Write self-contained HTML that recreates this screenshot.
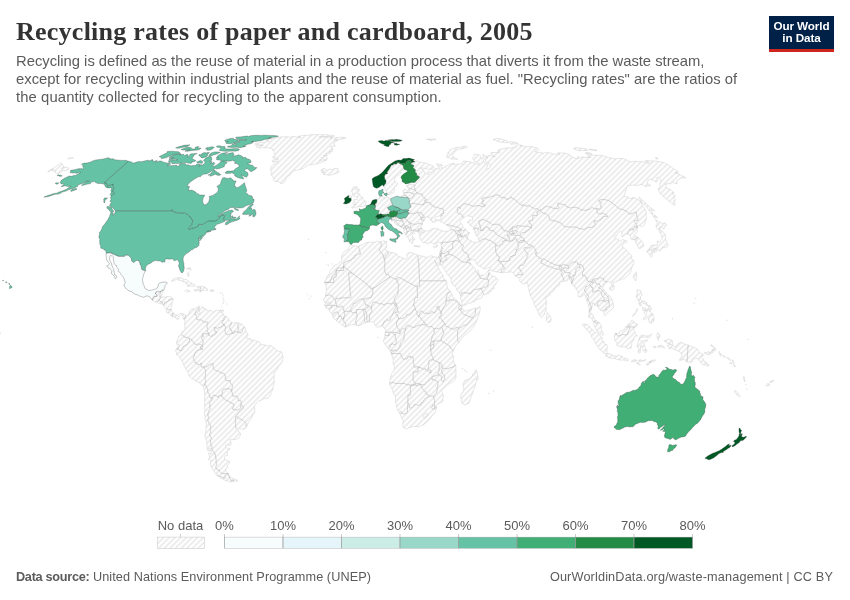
<!DOCTYPE html>
<html lang="en">
<head>
<meta charset="utf-8">
<title>Recycling rates of paper and cardboard, 2005</title>
<style>
html,body{margin:0;padding:0;background:#fff;}
body{width:850px;height:600px;position:relative;overflow:hidden;font-family:"Liberation Sans",sans-serif;}
.title{position:absolute;left:16px;top:16.5px;margin:0;font-family:"Liberation Serif",serif;font-weight:700;font-size:26px;line-height:30px;color:#333;white-space:nowrap;letter-spacing:0.25px;}
.sub{position:absolute;left:16px;top:52px;margin:0;font-size:14.8px;line-height:18px;color:#5b5b5b;white-space:nowrap;}
.sub span{display:block;}
.logo{position:absolute;left:769px;top:16px;width:65px;height:36px;background:#002147;border-bottom:3px solid #ce261e;box-sizing:border-box;color:#fff;font-weight:700;font-size:11.7px;line-height:12px;text-align:center;padding-top:4px;letter-spacing:-0.1px;}
.foot{position:absolute;top:569px;font-size:12.7px;line-height:16px;color:#5b5b5b;white-space:nowrap;margin:0;}
.foot.l{left:16px;letter-spacing:0.07px;}.foot.l b{letter-spacing:-0.29px;}
.foot.r{right:17px;letter-spacing:0.15px;}
svg{position:absolute;left:0;top:0;}
.lg text{font-family:"Liberation Sans",sans-serif;font-size:13px;fill:#5b5b5b;}
</style>
</head>
<body>
<svg width="850" height="600" viewBox="0 0 850 600">
<defs>
<pattern id="hatch" patternUnits="userSpaceOnUse" width="4" height="4" patternTransform="translate(1.4 0) rotate(-45 2 2)">
<rect width="4" height="4" fill="#fff"/>
<path d="M-1,2l6,0" stroke="#ccc" stroke-width="0.7"/>
</pattern>
</defs>
<g fill="url(#hatch)" stroke="#b2b2b2" stroke-width="0.3" stroke-linejoin="round">
<path d="M299.0,136.1L304.2,135.2L308.9,135.3L310.9,134.7L315.8,134.6L326.5,134.7L334.6,135.9L331.8,136.5L326.5,136.6L319.0,136.8L319.6,137.1L324.6,136.9L328.6,137.4L331.4,136.9L332.4,137.5L330.5,138.5L334.3,137.9L341.2,137.2L345.3,137.5L346.0,138.2L340.0,139.4L339.1,139.8L334.5,140.1L337.8,140.2L335.8,141.5L334.3,142.7L333.8,144.8L335.3,146.1L332.9,146.2L330.3,146.8L332.8,147.9L332.8,149.6L331.1,149.8L332.7,151.5L329.2,151.7L330.9,152.5L330.2,153.2L327.9,153.6L325.6,153.6L327.3,155.0L327.1,155.9L324.2,155.1L323.2,155.6L325.2,156.2L327.1,157.5L327.3,159.2L324.3,159.6L323.2,158.8L321.5,157.5L321.7,159.0L319.5,160.1L323.9,160.2L326.1,160.4L321.3,162.3L316.3,164.0L311.2,164.8L309.3,164.8L307.3,165.6L304.3,168.0L300.1,169.6L298.9,169.7L296.4,170.3L293.7,170.8L291.7,172.2L291.2,173.8L289.8,175.3L286.3,177.2L286.4,179.0L285.0,181.0L283.3,183.3L280.7,183.5L278.6,181.5L275.0,181.5L273.7,180.2L273.3,177.9L271.4,175.0L271.1,173.5L271.7,171.4L270.2,169.3L271.5,167.6L270.7,166.9L273.6,164.2L276.5,163.4L277.6,162.5L278.7,160.8L276.5,161.6L275.4,161.9L273.8,162.2L272.1,161.5L272.7,160.0L273.9,158.9L275.5,158.8L278.5,159.4L276.4,158.0L275.3,157.3L273.5,157.6L272.4,157.1L275.3,155.1L274.8,154.3L274.3,152.9L273.8,150.7L272.3,149.9L272.8,149.0L269.5,147.9L266.4,147.7L262.3,147.8L258.4,147.9L257.2,147.3L255.6,146.1L260.1,145.4L263.2,145.3L257.3,144.8L254.6,144.0L255.5,143.3L261.9,142.4L268.0,141.5L269.2,140.9L265.8,140.2L267.7,139.5L273.7,138.4L275.9,138.2L275.9,137.5L279.6,137.0L284.1,136.8L288.3,136.8L289.5,137.3L293.8,136.4L296.6,137.0L298.5,137.1L301.0,137.6L298.3,136.8L299.0,136.1ZM338.1,168.5L337.5,170.0L339.3,171.5L336.8,173.3L331.5,174.9L329.9,175.3L327.6,175.0L322.8,174.2L324.7,173.2L321.1,172.1L324.3,171.6L324.3,171.0L320.8,170.4L322.2,169.0L324.9,168.6L327.3,170.2L330.2,168.9L332.2,169.6L335.2,168.3L338.1,168.5ZM152.4,300.2L152.6,299.5L152.9,298.9L152.6,298.4L154.0,296.3L156.9,296.3L157.1,295.4L156.7,295.2L156.5,294.6L155.8,294.0L155.0,293.2L156.0,293.2L156.2,291.7L158.4,291.7L160.5,291.7L160.2,293.8L159.7,296.7L160.3,296.7L161.0,297.2L161.3,296.8L161.9,297.1L160.8,298.1L159.6,298.9L159.4,299.4L159.5,299.9L159.0,300.6L158.4,300.7L158.5,301.0L158.1,301.3L157.2,302.0L157.1,302.3L156.0,301.9L154.6,301.8L153.6,301.3L152.4,300.2ZM160.5,291.7L160.5,291.3L160.8,291.2L161.1,291.5L162.2,289.9L162.6,289.9L162.6,290.3L163.0,290.3L162.9,291.0L162.3,292.2L162.5,292.5L162.2,293.5L162.3,293.7L161.8,295.1L161.3,295.7L160.9,295.8L160.3,296.7L159.7,296.7L160.2,293.8L160.5,291.7ZM162.3,303.3L162.0,303.9L160.7,303.8L159.9,303.6L158.9,303.1L157.7,302.9L157.1,302.3L157.2,302.0L158.1,301.3L158.5,301.0L158.4,300.7L159.0,300.6L159.6,300.8L160.1,301.3L160.7,301.7L160.8,302.0L161.8,301.8L162.2,301.9L162.5,302.2L162.3,303.3ZM163.3,304.3L163.0,303.5L162.3,303.3L162.5,302.2L162.2,301.9L161.8,301.8L160.8,302.0L160.7,301.7L160.1,301.3L159.6,300.8L159.0,300.6L159.5,299.9L159.4,299.4L159.6,298.9L160.8,298.1L161.9,297.1L162.1,297.2L162.7,296.8L163.3,296.7L163.5,297.0L163.9,296.8L164.9,297.1L166.0,297.0L166.7,296.7L167.1,296.4L167.8,296.6L168.3,296.7L168.9,296.7L169.4,296.4L170.4,296.8L170.7,296.9L171.4,297.3L172.0,297.9L172.8,298.3L173.3,299.0L172.5,299.0L172.2,299.4L171.3,299.7L170.8,299.7L170.2,300.0L169.8,299.9L169.4,299.5L169.2,299.6L168.8,300.2L168.6,300.2L168.5,300.7L167.7,301.4L167.2,301.8L166.9,302.1L166.3,301.6L165.8,302.3L165.3,302.2L164.7,302.3L164.7,303.6L164.3,303.6L164.0,304.2L163.3,304.3ZM166.6,309.3L165.8,308.4L164.8,307.4L164.4,306.5L163.5,305.7L162.5,304.5L162.7,304.1L163.1,304.5L163.3,304.3L164.0,304.2L164.3,303.6L164.7,303.6L164.7,302.3L165.3,302.2L165.8,302.3L166.3,301.6L166.9,302.1L167.2,301.8L167.7,301.4L168.5,300.7L168.6,300.2L168.8,300.2L169.2,299.6L169.4,299.5L169.8,299.9L170.2,300.0L170.8,299.7L171.3,299.7L172.2,299.4L172.5,299.0L173.3,299.0L173.1,299.3L172.9,299.9L173.0,300.8L172.4,301.7L172.1,302.8L171.9,303.9L172.0,304.6L172.0,305.8L171.6,306.0L171.3,307.2L171.4,307.8L170.9,308.5L170.9,309.2L171.2,309.6L170.7,310.2L170.0,310.0L169.6,309.5L168.9,309.3L168.4,309.6L166.9,308.9L166.6,309.3ZM172.4,316.7L171.2,316.1L170.8,315.6L171.0,315.2L171.0,314.6L170.4,313.9L169.5,313.4L168.7,313.1L168.7,312.3L168.1,311.9L168.2,312.6L167.7,313.2L167.2,312.5L166.5,312.3L166.2,311.8L166.3,310.9L166.6,310.1L166.0,309.7L166.6,309.3L166.9,308.9L168.4,309.6L168.9,309.3L169.6,309.5L170.0,310.0L170.7,310.2L171.2,309.6L171.7,311.1L172.5,312.1L173.6,313.2L172.7,313.5L172.6,314.5L173.1,314.9L172.7,315.2L172.8,315.7L172.6,316.2L172.4,316.7ZM184.0,319.4L183.3,318.6L182.8,317.2L183.4,316.5L182.8,316.3L182.5,315.4L181.4,314.7L180.3,314.9L179.8,315.8L178.9,316.5L178.4,316.5L178.1,317.1L179.1,318.5L178.5,318.8L178.1,319.2L177.1,319.4L176.7,317.8L176.4,318.2L175.7,318.1L175.3,317.0L174.3,316.8L173.7,316.6L172.8,316.6L172.7,317.1L172.4,316.7L172.6,316.2L172.8,315.7L172.7,315.2L173.1,314.9L172.6,314.5L172.7,313.5L173.6,313.2L174.3,314.2L174.3,314.7L175.2,314.8L175.4,314.6L176.0,315.3L177.1,315.1L178.2,314.4L179.6,313.9L180.4,313.1L181.7,313.3L181.6,313.5L182.8,313.6L183.8,314.1L184.5,314.8L185.4,315.6L185.1,316.0L185.5,317.5L185.1,318.3L184.3,318.1L184.0,319.4ZM177.8,277.7L179.8,277.8L181.5,277.9L183.5,278.8L184.3,279.7L186.4,279.4L187.2,280.0L188.9,281.7L190.2,282.8L190.9,282.8L192.2,283.3L191.9,284.1L193.6,284.2L195.2,285.3L194.8,285.9L193.3,286.2L191.8,286.3L190.2,286.1L186.9,286.4L188.6,284.9L187.8,284.2L186.4,284.1L185.7,283.3L185.3,281.8L184.0,281.9L182.0,281.2L181.4,280.7L178.5,280.3L177.8,279.8L178.7,279.1L176.5,279.0L174.7,280.3L173.8,280.4L173.4,281.0L172.2,281.3L171.3,281.0L172.6,280.3L173.2,279.3L174.3,278.7L175.5,278.2L177.2,278.0L177.8,277.7ZM197.3,286.2L200.6,286.7L200.7,288.2L200.4,289.2L199.8,289.6L200.3,290.4L200.1,291.1L198.7,290.7L197.6,290.8L196.2,290.6L195.1,291.1L194.0,290.3L194.3,289.5L196.3,289.8L198.0,290.0L198.9,289.5L198.0,288.3L198.1,287.4L196.7,286.9L197.3,286.2ZM200.6,286.7L200.9,286.3L202.7,286.3L204.0,287.0L204.6,286.9L204.9,287.8L206.1,287.8L206.0,288.6L207.0,288.7L208.0,289.6L207.1,290.7L206.0,290.1L205.0,290.2L204.3,290.1L203.8,290.6L202.9,290.7L202.6,290.1L201.8,290.5L200.7,292.3L200.2,291.8L200.1,291.1L200.3,290.4L199.8,289.6L200.4,289.2L200.7,288.2L200.6,286.7ZM187.0,289.9L188.5,290.2L189.6,290.8L189.9,291.5L188.3,291.6L187.6,292.0L186.3,291.6L185.1,290.6L185.5,290.0L186.5,289.9L187.0,289.9ZM212.6,289.9L213.7,290.1L214.1,290.6L213.4,291.3L211.7,291.3L210.4,291.3L210.4,290.2L210.7,289.9L212.6,289.9ZM188.7,276.2L188.1,276.3L187.8,274.8L187.0,274.0L187.8,272.4L188.4,272.5L188.9,274.7L188.7,276.2ZM189.2,268.8L186.7,269.2L186.7,268.3L187.7,268.1L189.2,268.1L189.2,268.8ZM191.0,268.8L190.3,270.6L189.9,270.3L190.2,268.9L189.4,267.9L189.4,267.6L191.0,268.8ZM221.6,310.1L223.0,309.8L223.4,309.9L223.2,311.8L221.3,312.1L220.9,311.9L221.6,311.1L221.6,310.1ZM189.3,338.6L188.3,338.0L187.2,337.1L186.5,337.5L184.6,337.2L184.0,336.0L183.6,336.1L181.3,334.6L181.0,333.8L181.9,333.6L181.8,332.3L182.3,331.3L183.5,331.2L184.5,329.5L185.4,328.2L184.6,327.5L185.1,326.0L184.6,323.6L185.1,322.9L184.8,320.7L184.0,319.4L184.3,318.1L185.1,318.3L185.5,317.5L185.1,316.0L185.4,315.6L186.5,315.6L188.4,313.8L189.3,313.6L189.4,312.7L189.9,310.5L191.3,309.3L192.8,309.2L193.0,308.7L194.8,308.9L196.7,307.6L197.6,307.0L198.8,305.7L199.6,305.9L200.1,306.6L199.7,307.5L198.2,307.9L197.5,309.2L196.6,310.0L195.8,310.9L195.4,312.8L194.7,314.3L195.9,314.5L196.1,315.7L196.6,316.2L196.8,317.3L196.4,318.3L196.5,318.8L197.1,319.0L197.6,320.0L200.6,319.7L201.9,320.0L203.4,322.3L204.3,322.0L206.0,322.1L207.3,321.8L208.1,322.3L207.7,323.7L207.1,324.6L206.9,326.5L207.3,328.2L207.9,329.0L208.0,329.5L206.8,330.8L207.6,331.4L208.2,332.3L208.9,334.9L208.5,335.3L208.0,333.7L207.4,332.9L206.6,333.8L202.1,333.7L202.2,335.4L203.5,335.6L203.4,336.6L203.0,336.3L201.6,336.8L201.6,338.7L202.7,339.6L203.0,341.1L203.0,342.3L202.1,349.4L200.9,348.0L200.2,348.0L201.7,345.3L199.9,344.1L198.5,344.3L197.7,343.9L196.4,344.5L194.7,344.2L193.3,341.5L192.2,340.8L191.5,339.6L189.9,338.4L189.3,338.6ZM199.7,307.5L199.5,308.1L198.2,308.4L198.9,309.6L198.8,310.9L197.7,312.4L198.4,314.5L199.4,314.3L200.0,312.5L199.4,311.5L199.4,309.6L202.3,308.5L202.0,307.3L202.9,306.5L203.6,308.3L205.2,308.3L206.6,309.8L206.7,310.7L208.7,310.7L211.2,310.4L212.4,311.6L214.2,311.9L215.5,311.1L215.6,310.4L218.4,310.3L221.2,310.2L219.2,311.0L219.9,312.2L221.7,312.4L223.4,313.7L223.7,315.8L224.9,315.8L225.8,316.4L223.9,317.9L223.6,318.8L224.4,319.8L223.8,320.3L222.4,320.7L222.4,321.9L221.8,322.6L223.3,324.6L223.6,325.4L222.7,326.3L220.1,327.3L218.4,327.7L217.7,328.4L215.9,327.7L214.2,327.4L213.8,327.6L214.8,328.3L214.7,330.0L215.0,331.7L216.9,331.9L217.0,332.5L215.4,333.2L215.1,334.3L214.1,334.7L212.4,335.3L212.0,336.1L210.2,336.3L208.9,334.9L208.2,332.3L207.6,331.4L206.8,330.8L208.0,329.5L207.9,329.0L207.3,328.2L206.9,326.5L207.1,324.6L207.7,323.7L208.1,322.3L207.3,321.8L206.0,322.1L204.3,322.0L203.4,322.3L201.9,320.0L200.6,319.7L197.6,320.0L197.1,319.0L196.5,318.8L196.4,318.3L196.8,317.3L196.6,316.2L196.1,315.7L195.9,314.5L194.7,314.3L195.4,312.8L195.8,310.9L196.6,310.0L197.5,309.2L198.2,307.9L199.7,307.5ZM225.8,316.4L227.2,317.3L228.6,319.0L228.6,320.4L229.5,320.4L230.7,321.7L231.6,322.6L231.1,325.0L229.7,325.6L229.8,326.2L229.4,327.6L230.4,329.5L231.1,329.5L231.4,331.0L232.8,333.2L232.2,333.3L230.9,333.1L230.2,333.8L229.1,334.3L228.4,334.4L228.1,334.9L227.0,334.8L225.6,333.5L225.4,332.3L224.9,331.0L225.3,328.8L225.9,327.9L225.4,326.7L224.7,326.3L225.0,325.1L224.5,324.5L223.3,324.6L221.8,322.6L222.4,321.9L222.4,320.7L223.8,320.3L224.4,319.8L223.6,318.8L223.9,317.9L225.8,316.4ZM231.6,322.6L234.3,323.1L234.6,322.7L236.4,322.5L238.9,323.2L237.6,325.4L237.8,327.2L238.7,328.8L238.2,329.9L238.0,331.1L237.4,332.2L236.1,331.6L235.0,331.9L234.1,331.6L233.9,332.4L234.2,332.9L234.0,333.4L232.8,333.2L231.4,331.0L231.1,329.5L230.4,329.5L229.4,327.6L229.8,326.2L229.7,325.6L231.1,325.0L231.6,322.6ZM244.1,327.3L242.7,329.7L242.0,331.7L241.1,332.7L240.0,332.8L239.7,332.1L239.1,332.0L238.4,332.7L237.4,332.2L238.0,331.1L238.2,329.9L238.7,328.8L237.8,327.2L237.6,325.4L238.9,323.2L239.7,323.5L241.4,324.1L243.8,326.3L244.1,327.3ZM178.1,347.1L179.2,345.1L178.7,344.0L177.9,345.2L176.5,344.1L176.9,343.3L176.5,341.0L177.3,340.6L177.7,338.9L178.6,337.3L178.4,336.2L179.7,335.6L181.3,334.6L183.6,336.1L184.0,336.0L184.6,337.2L186.5,337.5L187.2,337.1L188.3,338.0L189.3,338.6L189.6,340.6L188.9,342.3L186.5,345.0L183.7,346.0L182.4,348.3L182.0,350.1L180.7,351.1L179.7,349.8L178.8,349.6L177.8,349.8L177.7,348.8L178.4,348.2L178.1,347.1ZM204.8,384.1L204.4,385.4L203.3,386.1L200.8,384.6L200.5,383.5L195.8,380.9L191.4,378.1L189.5,376.4L188.4,374.3L188.7,373.5L186.5,370.1L183.9,365.3L181.5,360.1L180.5,358.9L179.7,357.0L177.8,355.3L176.1,354.2L176.8,353.1L175.6,350.6L176.3,348.7L178.1,347.1L178.4,348.2L177.7,348.8L177.8,349.8L178.8,349.6L179.7,349.8L180.7,351.1L182.0,350.1L182.4,348.3L183.7,346.0L186.5,345.0L188.9,342.3L189.6,340.6L189.3,338.6L189.9,338.4L191.5,339.6L192.2,340.8L193.3,341.5L194.7,344.2L196.4,344.5L197.7,343.9L198.5,344.3L199.9,344.1L201.7,345.3L200.2,348.0L200.9,348.0L202.1,349.4L200.0,349.3L199.7,349.7L197.9,350.2L195.3,352.0L195.2,353.2L194.6,354.1L194.9,355.5L193.5,356.3L193.6,357.4L193.0,357.8L194.0,360.2L195.4,361.8L194.9,362.9L196.5,363.1L197.4,364.4L199.5,364.5L201.3,363.0L201.3,366.9L202.4,367.2L203.6,366.8L205.9,371.0L205.5,371.9L205.5,373.7L205.6,375.9L204.8,377.2L205.3,378.2L204.8,379.1L206.0,381.3L204.8,384.1ZM221.3,395.7L218.7,395.6L218.0,397.7L216.5,395.8L213.5,395.2L211.8,397.6L210.2,397.9L209.0,394.3L207.5,391.4L207.9,388.9L206.6,387.7L206.1,385.9L204.8,384.1L206.0,381.3L204.8,379.1L205.3,378.2L204.8,377.2L205.6,375.9L205.5,373.7L205.5,371.9L205.9,371.0L203.6,366.8L205.4,367.0L206.5,366.9L207.0,366.2L209.0,365.1L210.1,364.1L213.1,363.7L213.0,365.6L213.3,366.7L213.2,368.4L215.8,370.7L218.4,371.2L219.4,372.1L221.0,372.7L222.0,373.4L223.4,373.4L224.8,374.2L225.0,375.7L225.5,376.4L225.6,377.6L224.9,377.6L226.0,380.6L230.4,380.7L230.2,382.3L230.5,383.3L231.8,384.0L232.5,385.6L232.2,387.7L231.7,388.8L232.1,390.3L231.4,390.9L231.3,390.1L229.1,388.7L227.0,388.7L223.1,389.4L222.2,391.7L222.3,393.1L221.7,396.3L221.3,395.7ZM221.7,396.3L222.3,393.1L222.2,391.7L223.1,389.4L227.0,388.7L229.1,388.7L231.3,390.1L231.4,390.9L232.2,392.3L232.4,395.9L234.8,396.4L235.7,395.9L237.2,396.6L237.7,397.4L238.2,399.7L238.5,400.7L239.4,400.8L240.2,400.4L241.0,400.9L241.2,402.3L241.0,403.9L240.7,405.4L240.6,407.7L238.9,409.7L237.2,410.1L234.6,409.7L232.3,409.0L234.0,405.0L233.5,403.9L231.1,402.9L228.1,400.9L226.2,400.5L221.7,396.3ZM235.6,417.1L237.0,416.8L239.6,418.8L240.4,418.7L242.9,420.4L244.8,421.9L246.4,423.6L245.7,424.9L246.5,426.4L245.8,428.0L243.6,429.4L242.0,428.9L240.8,429.2L238.6,428.1L237.1,428.2L235.5,426.7L235.4,425.0L235.8,424.4L235.3,421.8L235.4,419.2L235.6,417.1ZM204.8,384.1L206.1,385.9L206.6,387.7L207.9,388.9L207.5,391.4L209.0,394.3L210.2,397.9L211.8,397.6L212.2,398.2L211.7,400.9L209.4,402.2L210.1,406.6L209.8,407.4L210.6,408.4L209.3,410.0L208.2,412.5L207.8,414.9L208.5,417.4L207.7,420.1L209.6,424.6L210.3,425.0L210.8,427.5L210.2,430.0L210.8,432.2L209.6,433.9L210.2,436.3L211.6,438.8L210.5,439.8L210.6,442.1L210.9,444.7L212.3,447.9L211.6,448.4L213.1,451.4L214.4,452.4L214.0,453.4L215.2,454.0L215.7,454.9L215.0,455.4L215.7,456.9L216.2,460.3L215.9,462.5L216.6,463.8L216.6,465.4L215.5,466.5L216.7,469.2L217.8,470.1L219.1,469.9L219.8,471.8L221.3,473.3L226.2,473.6L228.2,474.0L226.4,474.0L225.7,474.6L224.3,475.5L225.1,477.8L224.3,477.9L221.7,477.1L218.7,475.3L215.6,473.9L214.3,472.3L214.2,470.8L212.5,469.2L210.4,464.8L210.3,462.4L211.7,460.4L208.3,459.7L209.5,457.4L208.6,453.2L211.3,454.1L210.5,448.7L208.9,448.1L209.3,451.3L207.9,450.9L207.3,447.2L206.5,442.4L206.9,440.7L205.6,438.1L204.6,435.2L205.5,435.1L205.7,430.9L206.2,426.7L206.3,422.8L204.9,418.9L205.2,416.8L204.3,413.5L205.0,410.4L204.7,405.3L204.7,399.9L204.7,394.0L204.1,389.8L203.3,386.1L204.4,385.4L204.8,384.1ZM228.4,474.8L230.8,480.4L232.9,480.4L234.1,480.4L233.9,481.4L232.6,482.2L231.6,482.1L230.4,481.9L228.6,481.2L226.4,480.8L223.4,479.5L220.8,478.1L216.8,475.3L218.7,475.9L222.2,477.5L225.1,478.4L225.6,477.3L225.5,475.6L226.9,474.5L228.4,474.8ZM228.4,474.8L229.7,476.0L231.4,477.9L234.6,479.3L237.5,480.0L237.2,481.2L235.4,481.3L234.1,480.4L232.9,480.4L230.8,480.4L228.4,474.8ZM235.6,417.1L235.4,419.2L235.3,421.8L235.8,424.4L235.4,425.0L235.5,426.7L235.6,428.1L238.8,430.3L238.9,432.1L240.5,433.2L240.6,434.5L239.3,437.8L236.4,439.3L232.3,439.8L229.9,439.5L230.7,441.1L230.8,443.0L231.5,444.3L230.5,445.2L228.4,445.6L226.1,444.6L225.5,445.3L226.5,447.9L228.2,448.7L229.1,447.9L230.1,449.2L228.4,450.0L227.2,451.6L227.7,454.2L227.6,455.6L225.7,455.6L224.5,456.9L224.5,458.8L227.2,460.7L229.3,461.2L229.4,463.5L227.5,464.9L227.2,467.9L225.8,468.9L225.5,470.1L227.1,472.7L229.1,474.1L228.2,474.0L226.2,473.6L221.3,473.3L219.8,471.8L219.1,469.9L217.8,470.1L216.7,469.2L215.5,466.5L216.6,465.4L216.6,463.8L215.9,462.5L216.2,460.3L215.7,456.9L215.0,455.4L215.7,454.9L215.2,454.0L214.0,453.4L214.4,452.4L213.1,451.4L211.6,448.4L212.3,447.9L210.9,444.7L210.6,442.1L210.5,439.8L211.6,438.8L210.2,436.3L209.6,433.9L210.8,432.2L210.2,430.0L210.8,427.5L210.3,425.0L209.6,424.6L207.7,420.1L208.5,417.4L207.8,414.9L208.2,412.5L209.3,410.0L210.6,408.4L209.8,407.4L210.1,406.6L209.4,402.2L211.7,400.9L212.2,398.2L211.8,397.6L213.5,395.2L216.5,395.8L218.0,397.7L218.7,395.6L221.3,395.7L221.7,396.3L226.2,400.5L228.1,400.9L231.1,402.9L233.5,403.9L234.0,405.0L232.3,409.0L234.6,409.7L237.2,410.1L238.9,409.7L240.6,407.7L240.7,405.4L241.8,404.9L243.1,406.4L243.3,408.5L241.6,409.9L240.2,411.0L238.1,413.5L235.6,417.1ZM235.6,417.1L238.1,413.5L240.2,411.0L241.6,409.9L243.3,408.5L243.1,406.4L241.8,404.9L240.7,405.4L241.0,403.9L241.2,402.3L241.0,400.9L240.2,400.4L239.4,400.8L238.5,400.7L238.2,399.7L237.7,397.4L237.2,396.6L235.7,395.9L234.8,396.4L232.4,395.9L232.2,392.3L231.4,390.9L232.1,390.3L231.7,388.8L232.2,387.7L232.5,385.6L231.8,384.0L230.5,383.3L230.2,382.3L230.4,380.7L226.0,380.6L224.9,377.6L225.6,377.6L225.5,376.4L225.0,375.7L224.8,374.2L223.4,373.4L222.0,373.4L221.0,372.7L219.4,372.1L218.4,371.2L215.8,370.7L213.2,368.4L213.3,366.7L213.0,365.6L213.1,363.7L210.1,364.1L209.0,365.1L207.0,366.2L206.5,366.9L205.4,367.0L203.6,366.8L202.4,367.2L201.3,366.9L201.3,363.0L199.5,364.5L197.4,364.4L196.5,363.1L194.9,362.9L195.4,361.8L194.0,360.2L193.0,357.8L193.6,357.4L193.5,356.3L194.9,355.5L194.6,354.1L195.2,353.2L195.3,352.0L197.9,350.2L199.7,349.7L200.0,349.3L202.1,349.4L203.0,342.3L203.0,341.1L202.7,339.6L201.6,338.7L201.6,336.8L203.0,336.3L203.4,336.6L203.5,335.6L202.2,335.4L202.1,333.7L206.6,333.8L207.4,332.9L208.0,333.7L208.5,335.3L208.9,334.9L210.2,336.3L212.0,336.1L212.4,335.3L214.1,334.7L215.1,334.3L215.4,333.2L217.0,332.5L216.9,331.9L215.0,331.7L214.7,330.0L214.8,328.3L213.8,327.6L214.2,327.4L215.9,327.7L217.7,328.4L218.4,327.7L220.1,327.3L222.7,326.3L223.6,325.4L223.3,324.6L224.5,324.5L225.0,325.1L224.7,326.3L225.4,326.7L225.9,327.9L225.3,328.8L224.9,331.0L225.4,332.3L225.6,333.5L227.0,334.8L228.1,334.9L228.4,334.4L229.1,334.3L230.2,333.8L230.9,333.1L232.2,333.3L232.8,333.2L234.0,333.4L234.2,332.9L233.9,332.4L234.1,331.6L235.0,331.9L236.1,331.6L237.4,332.2L238.4,332.7L239.1,332.0L239.7,332.1L240.0,332.8L241.1,332.7L242.0,331.7L242.7,329.7L244.1,327.3L244.9,327.2L245.4,328.7L246.7,333.2L247.9,333.7L247.9,335.5L246.2,337.6L246.9,338.4L251.0,338.8L251.1,341.4L252.8,339.7L255.7,340.7L259.6,342.2L260.7,343.8L260.4,345.2L263.0,344.4L267.5,345.8L271.0,345.7L274.4,347.9L277.4,350.8L279.2,351.5L281.1,351.6L282.0,352.5L282.8,355.8L283.2,357.4L282.4,361.7L281.3,363.4L278.1,367.0L276.8,370.0L275.2,372.2L274.6,372.3L274.0,374.2L274.4,379.1L274.0,383.1L273.8,384.8L273.2,385.9L273.0,389.4L270.9,392.8L270.7,395.5L268.9,396.6L268.5,398.2L266.1,398.2L262.6,399.2L261.1,400.3L258.6,401.1L256.2,403.2L254.5,405.8L254.4,407.7L254.9,409.1L254.8,411.8L254.4,413.0L253.1,414.5L251.2,419.1L249.6,421.2L248.3,422.4L247.7,424.9L246.5,426.4L245.7,424.9L246.4,423.6L244.8,421.9L242.9,420.4L240.4,418.7L239.6,418.8L237.0,416.8L235.6,417.1ZM401.7,170.2L400.2,171.8L400.8,173.2L398.3,175.0L395.1,177.0L394.2,180.4L395.7,182.0L397.7,183.4L396.3,186.1L394.5,186.6L394.2,190.7L393.4,193.0L391.1,192.8L390.2,194.7L387.9,194.8L387.1,192.5L385.3,189.7L383.6,186.3L384.3,184.9L385.7,183.3L386.1,180.5L384.8,179.3L384.4,176.2L385.4,174.0L387.1,174.0L387.6,173.1L386.9,172.3L389.2,169.1L390.6,166.6L391.5,165.0L393.2,165.0L393.4,163.8L396.7,164.1L396.7,162.7L397.7,162.6L400.1,163.7L403.0,165.2L403.8,168.6L404.5,169.5L401.7,170.2ZM352.2,196.8L351.1,198.5L349.6,198.0L348.4,198.0L348.9,196.7L348.5,195.4L350.2,195.3L352.2,196.8ZM357.5,186.8L355.4,189.5L357.3,189.1L359.4,189.1L358.9,191.1L357.1,193.3L359.1,193.5L359.3,193.7L361.0,196.6L362.3,197.0L363.5,199.8L364.0,200.8L366.4,201.3L366.2,202.9L365.2,203.6L366.0,204.9L364.2,206.2L361.5,206.2L358.1,206.9L357.2,206.4L355.9,207.6L354.0,207.3L352.6,208.3L351.5,207.8L354.5,205.1L356.3,204.6L353.2,204.2L352.7,203.2L354.8,202.4L353.8,201.1L354.2,199.4L357.1,199.7L357.4,198.2L356.1,196.7L353.8,196.2L353.3,195.6L354.1,194.4L353.4,193.8L352.4,194.9L352.4,192.6L351.4,191.3L352.2,188.8L353.8,186.8L355.2,187.0L357.5,186.8ZM375.2,207.9L375.6,208.4L375.5,209.6L375.0,209.6L374.5,209.4L374.7,208.0L375.2,207.9ZM382.2,195.8L382.3,196.7L384.3,197.3L384.3,198.2L386.3,197.7L387.3,197.0L389.6,198.0L390.6,198.8L391.1,200.0L390.6,200.7L391.4,201.6L392.0,202.9L392.0,203.8L392.9,205.4L392.0,205.7L391.5,205.4L391.1,205.8L389.7,206.3L389.0,207.0L387.5,207.5L388.0,208.3L388.2,209.3L389.3,209.9L390.5,211.0L389.9,212.2L389.2,212.5L389.6,214.2L389.4,214.6L388.8,214.1L387.8,214.0L386.4,214.5L384.5,214.4L384.3,215.0L383.2,214.3L382.6,214.5L380.4,213.7L380.0,214.2L378.3,214.2L378.5,212.4L379.4,210.7L376.5,210.2L375.5,209.6L375.6,208.4L375.2,207.9L375.4,206.2L374.9,203.5L376.1,203.5L376.6,202.6L377.0,200.3L376.6,199.5L376.9,198.9L378.5,198.8L378.9,199.3L380.2,198.1L379.7,197.2L379.5,195.8L381.0,196.1L382.2,195.8ZM391.4,217.1L393.1,217.3L394.1,216.7L395.8,216.6L396.2,216.2L396.6,216.2L397.0,217.1L395.4,217.7L395.3,218.8L394.6,219.1L394.7,219.8L393.9,219.7L393.2,219.3L392.8,219.7L391.4,219.6L391.8,219.4L391.2,218.3L391.4,217.1ZM401.8,218.6L402.4,219.6L403.1,220.3L402.4,221.3L401.4,220.7L400.0,220.7L398.2,220.3L397.2,220.4L396.8,220.9L396.0,220.3L395.7,221.4L396.8,222.6L397.3,223.4L398.3,224.3L399.2,224.9L400.0,226.0L402.0,227.0L401.8,227.4L399.7,226.5L398.5,225.5L396.5,224.8L394.6,222.9L395.0,222.7L394.0,221.6L393.9,220.7L392.5,220.3L392.0,221.4L391.3,220.6L391.3,219.7L391.4,219.6L392.8,219.7L393.2,219.3L393.9,219.7L394.7,219.8L394.6,219.1L395.3,218.8L395.4,217.7L397.0,217.1L397.7,217.4L399.3,218.5L401.1,219.0L401.8,218.6ZM402.4,221.3L403.2,221.3L402.7,222.4L403.8,223.4L403.6,224.6L403.2,224.7L402.8,225.0L402.2,225.6L402.0,227.0L400.0,226.0L399.2,224.9L398.3,224.3L397.3,223.4L396.8,222.6L395.7,221.4L396.0,220.3L396.8,220.9L397.2,220.4L398.2,220.3L400.0,220.7L401.4,220.7L402.4,221.3ZM401.8,218.6L403.3,217.9L404.6,218.0L405.8,219.1L406.1,219.8L407.4,220.5L407.7,221.5L409.0,222.3L409.6,221.7L410.1,222.0L409.7,222.4L410.1,222.9L409.7,223.5L410.0,224.4L411.1,225.5L410.4,226.3L410.1,227.2L410.4,227.5L410.1,227.8L409.1,227.9L408.4,228.0L408.3,227.8L408.5,227.5L408.7,226.9L408.4,226.9L408.0,226.4L407.6,226.3L407.3,225.9L406.9,225.7L406.5,225.4L406.2,225.5L406.0,226.4L405.5,226.6L405.7,226.3L404.8,225.8L404.1,225.5L403.7,225.2L403.2,224.7L403.6,224.6L403.8,223.4L402.7,222.4L403.2,221.3L402.4,221.3L403.1,220.3L402.4,219.6L401.8,218.6ZM406.4,229.0L406.2,228.1L405.7,227.8L405.2,227.1L405.5,226.6L406.0,226.4L406.2,225.5L406.5,225.4L406.9,225.7L407.3,225.9L407.6,226.3L408.0,226.4L408.4,226.9L408.7,226.9L408.5,227.5L408.3,227.8L408.4,228.0L407.9,228.1L406.7,228.5L406.7,229.0L406.4,229.0ZM404.6,227.4L404.4,226.9L403.6,228.1L403.9,229.0L403.4,228.8L402.7,227.9L401.8,227.4L402.0,227.0L402.2,225.6L402.8,225.0L403.2,224.7L403.7,225.2L404.1,225.5L404.8,225.8L405.7,226.3L405.5,226.6L405.2,227.1L404.6,227.4ZM406.4,229.0L406.2,229.9L406.7,231.0L407.6,231.7L407.6,232.3L406.9,232.7L406.9,233.5L406.0,234.8L405.6,234.6L405.5,234.0L404.3,233.2L404.0,231.9L404.0,230.2L404.3,229.4L403.9,229.0L403.6,228.1L404.4,226.9L404.6,227.4L405.2,227.1L405.7,227.8L406.2,228.1L406.4,229.0ZM406.4,229.0L406.7,229.0L406.7,228.5L407.9,228.1L408.4,228.0L409.1,227.9L410.1,227.8L411.2,228.7L411.5,230.4L411.1,230.5L410.8,230.9L409.7,230.8L408.9,231.4L407.6,231.7L406.7,231.0L406.2,229.9L406.4,229.0ZM419.2,229.8L418.7,231.4L418.2,231.7L416.9,231.6L415.8,231.4L413.3,232.0L414.9,233.5L413.9,233.9L412.7,233.9L411.5,232.6L411.1,233.2L411.7,234.7L412.9,235.9L412.2,236.5L413.5,237.7L414.6,238.4L414.8,239.9L412.7,239.2L413.5,240.6L412.1,240.8L413.1,243.1L411.7,243.2L409.8,242.0L408.9,240.0L408.4,238.2L407.4,237.0L406.2,235.5L406.0,234.8L406.9,233.5L406.9,232.7L407.6,232.3L407.6,231.7L408.9,231.4L409.7,230.8L410.8,230.9L411.1,230.5L411.5,230.4L413.1,230.4L414.7,229.7L416.3,230.6L418.2,230.4L418.1,229.1L419.2,229.8ZM414.5,245.0L415.7,245.9L417.4,245.7L419.0,245.9L419.0,246.4L420.2,246.1L420.0,246.8L416.9,247.0L416.9,246.6L414.1,246.1L414.5,245.0ZM410.1,222.9L410.8,224.0L411.6,223.7L413.3,224.2L416.4,224.3L417.3,223.6L419.7,223.0L421.3,224.0L422.6,224.2L421.6,225.3L421.1,227.2L422.0,228.6L420.1,228.3L418.1,229.1L418.2,230.4L416.3,230.6L414.7,229.7L413.1,230.4L411.5,230.4L411.2,228.7L410.1,227.8L410.4,227.5L410.1,227.2L410.4,226.3L411.1,225.5L410.0,224.4L409.7,223.5L410.1,222.9ZM409.2,213.6L410.0,213.0L411.3,213.3L412.6,213.3L413.6,213.9L414.3,213.5L415.7,213.3L416.2,212.7L417.0,212.7L417.7,213.0L418.4,213.7L419.2,214.8L420.6,216.3L420.8,217.4L420.7,218.5L421.3,219.7L422.3,220.2L423.2,219.7L424.2,220.2L424.3,220.8L423.4,221.4L422.7,221.2L422.6,224.2L421.3,224.0L419.7,223.0L417.3,223.6L416.4,224.3L413.3,224.2L411.6,223.7L410.8,224.0L410.1,222.9L409.7,222.4L410.1,222.0L409.6,221.7L409.0,222.3L407.7,221.5L407.4,220.5L406.1,219.8L405.8,219.1L404.6,218.0L406.2,217.5L407.3,215.8L408.0,214.1L409.2,213.6ZM417.0,212.7L417.5,212.3L418.8,212.1L420.4,212.8L421.2,213.0L422.2,213.6L422.2,214.5L423.0,214.9L423.5,216.0L424.3,216.6L424.2,217.0L424.6,217.3L424.1,217.5L422.9,217.4L422.6,217.0L422.2,217.2L422.4,217.7L422.0,218.5L421.8,219.4L421.3,219.7L420.7,218.5L420.8,217.4L420.6,216.3L419.2,214.8L418.4,213.7L417.7,213.0L417.0,212.7ZM425.7,202.9L426.5,203.0L426.9,202.4L427.5,202.6L429.5,202.3L431.0,203.7L430.6,204.2L431.0,205.0L432.6,205.1L433.5,206.2L433.6,206.7L436.3,207.6L437.7,207.2L439.2,208.4L440.4,208.4L443.5,209.2L443.7,209.9L443.2,211.3L443.9,212.7L443.8,213.5L441.8,213.7L440.9,214.4L441.1,215.5L439.5,215.8L438.3,216.6L436.4,216.7L434.8,217.7L435.2,219.3L436.3,219.9L438.4,219.7L438.1,220.6L436.0,221.1L433.4,222.6L432.2,222.1L432.4,220.8L430.0,220.1L430.3,219.6L432.2,218.7L431.5,218.2L428.2,217.5L427.9,216.5L426.0,216.9L425.5,218.3L424.2,220.2L423.2,219.7L422.3,220.2L421.3,219.7L421.8,219.4L422.0,218.5L422.4,217.7L422.2,217.2L422.6,217.0L422.9,217.4L424.1,217.5L424.6,217.3L424.2,217.0L424.3,216.6L423.5,216.0L423.0,214.9L422.2,214.5L422.2,213.6L421.2,213.0L420.4,212.8L418.8,212.1L417.5,212.3L417.0,212.7L416.2,212.7L415.7,213.3L414.3,213.5L413.6,213.9L412.6,213.3L411.3,213.3L410.0,213.0L409.2,213.6L409.0,212.9L407.8,212.2L408.0,211.1L408.5,210.5L409.0,210.6L408.3,209.5L409.9,207.4L410.8,207.1L410.9,206.4L409.7,204.2L410.6,204.1L411.6,203.4L413.1,203.4L415.1,203.6L417.4,204.2L419.0,204.2L419.8,204.6L420.4,204.2L421.1,204.7L422.8,204.6L423.7,204.9L423.6,203.6L424.1,203.1L425.7,202.9ZM408.7,198.4L410.6,198.4L412.6,197.5L412.8,196.1L414.2,195.3L413.8,194.2L414.9,193.8L416.8,192.8L418.9,193.4L419.3,194.1L420.3,193.8L422.3,194.4L422.7,195.5L422.4,196.2L423.9,197.8L424.8,198.2L424.8,198.7L426.2,199.1L426.9,199.8L426.2,200.3L424.7,200.2L424.3,200.5L424.9,201.3L425.7,202.9L424.1,203.1L423.6,203.6L423.7,204.9L422.8,204.6L421.1,204.7L420.4,204.2L419.8,204.6L419.0,204.2L417.4,204.2L415.1,203.6L413.1,203.4L411.6,203.4L410.6,204.1L409.7,204.2L409.5,203.1L408.7,201.9L409.8,201.4L409.6,200.4L409.0,199.5L408.7,198.4ZM407.1,197.4L406.9,196.7L407.0,196.0L406.1,195.7L404.0,195.2L403.3,193.2L405.4,192.4L408.6,192.6L410.4,192.3L410.8,192.9L411.8,193.0L413.8,194.2L414.2,195.3L412.8,196.1L412.6,197.5L410.6,198.4L408.7,198.4L408.1,197.6L407.1,197.4ZM403.3,193.2L403.1,191.3L403.8,189.8L405.4,189.0L407.2,190.8L408.7,190.7L408.8,188.9L410.3,188.4L411.2,188.7L413.0,189.6L414.5,189.7L415.5,190.2L415.9,191.4L416.8,192.8L414.9,193.8L413.8,194.2L411.8,193.0L410.8,192.9L410.4,192.3L408.6,192.6L405.4,192.4L403.3,193.2ZM408.8,188.9L408.8,187.4L408.1,187.7L406.8,186.9L406.4,185.5L408.6,184.8L410.9,184.5L413.0,184.9L414.9,184.8L415.2,185.2L414.2,186.6L415.2,188.9L414.5,189.7L413.0,189.6L411.2,188.7L410.3,188.4L408.8,188.9ZM407.1,197.4L403.6,197.4L401.1,197.1L401.4,196.0L404.0,195.2L406.1,195.7L407.0,196.0L406.9,196.7L407.1,197.4ZM351.9,244.9L353.1,246.0L355.2,245.8L357.5,246.4L358.4,246.4L359.2,248.1L359.3,249.7L360.1,252.4L360.6,253.0L360.2,254.0L357.3,254.4L356.3,255.4L355.1,255.6L355.0,257.5L352.4,258.6L351.5,259.9L349.7,260.6L347.5,261.0L343.8,262.9L343.8,266.0L343.4,266.0L343.5,267.4L342.1,267.5L341.3,268.1L340.3,268.1L339.5,267.7L337.7,268.0L336.9,270.1L336.2,270.3L335.0,273.5L331.8,276.4L331.0,280.0L330.1,281.1L329.8,282.1L324.7,282.3L324.8,281.1L325.7,280.4L326.4,279.0L326.3,278.1L327.1,276.3L328.4,274.6L329.2,274.2L329.9,272.7L329.9,271.3L330.8,269.7L332.3,268.7L333.8,266.0L335.0,265.0L337.1,264.7L338.9,262.9L340.0,262.2L341.9,260.1L341.5,256.8L342.4,254.6L342.7,253.2L344.1,251.4L346.4,250.2L348.0,249.2L349.5,246.4L350.3,244.9L351.9,244.9ZM343.8,266.0L343.7,266.7L343.6,270.6L336.3,270.5L336.2,277.2L334.1,277.4L333.5,278.8L333.9,282.5L325.0,282.5L324.5,283.4L324.6,282.3L329.8,282.1L330.1,281.1L331.0,280.0L331.8,276.4L335.0,273.5L336.2,270.3L336.9,270.1L337.7,268.0L339.5,267.7L340.3,268.1L341.3,268.1L342.1,267.5L343.5,267.4L343.4,266.0L343.8,266.0ZM390.1,276.9L382.5,281.9L376.0,287.0L372.8,288.2L370.3,288.4L370.2,286.8L369.2,286.4L367.8,285.6L367.2,284.4L359.6,278.7L352.1,273.0L343.7,266.7L343.8,266.2L343.8,266.0L343.8,262.9L347.5,261.0L349.7,260.6L351.5,259.9L352.4,258.6L355.0,257.5L355.1,255.6L356.3,255.4L357.3,254.4L360.2,254.0L360.6,253.0L360.1,252.4L359.3,249.7L359.2,248.1L358.4,246.4L360.5,245.0L362.8,244.5L364.2,243.4L366.3,242.6L369.9,242.2L373.5,242.0L374.6,242.4L376.6,241.3L378.9,241.3L379.8,241.9L381.3,241.8L380.9,243.1L381.3,245.6L380.8,247.7L379.5,249.2L379.8,251.2L381.6,252.7L381.6,253.3L383.0,254.4L384.1,259.1L384.9,261.4L385.0,262.6L384.6,264.7L384.9,265.9L384.6,267.4L384.8,269.0L384.0,270.1L385.3,272.0L385.4,273.1L386.2,274.6L387.3,274.1L389.1,275.3L390.1,276.9ZM384.1,259.1L383.0,254.4L381.6,253.3L381.6,252.7L379.8,251.2L379.5,249.2L380.8,247.7L381.3,245.6L380.9,243.1L381.3,241.8L383.6,240.7L385.1,241.0L385.1,242.4L386.9,241.4L387.0,241.9L386.0,243.2L386.0,244.4L386.8,245.0L386.6,247.3L385.2,248.6L385.7,250.0L386.8,250.0L387.4,251.3L388.3,251.7L388.2,253.7L387.1,254.5L386.5,255.3L385.0,256.3L385.3,257.4L385.1,258.5L384.1,259.1ZM396.6,278.5L395.0,279.5L393.7,278.1L390.1,276.9L389.1,275.3L387.3,274.1L386.2,274.6L385.4,273.1L385.3,272.0L384.0,270.1L384.8,269.0L384.6,267.4L384.9,265.9L384.6,264.7L385.0,262.6L384.9,261.4L384.1,259.1L385.1,258.5L385.3,257.4L385.0,256.3L386.5,255.3L387.1,254.5L388.2,253.7L388.3,251.7L390.9,252.6L391.8,252.4L393.6,252.8L396.6,254.0L397.7,256.3L399.7,256.8L402.9,257.9L405.3,259.2L406.3,258.5L407.3,257.3L406.7,255.3L407.3,254.0L408.8,252.8L410.3,252.5L413.3,253.0L414.2,254.2L415.0,254.2L415.7,254.6L417.9,254.9L418.5,255.8L417.8,257.0L418.2,258.2L417.8,259.8L418.6,261.9L419.1,271.2L419.5,280.8L419.7,286.0L417.1,286.0L417.1,287.1L407.9,282.1L398.8,277.1L396.6,278.5ZM440.5,261.2L440.0,262.2L439.7,264.2L439.2,265.6L438.7,266.0L437.9,265.2L436.8,264.0L434.9,260.3L434.7,260.5L435.8,263.3L437.4,265.9L439.4,270.0L440.3,271.4L441.2,272.9L443.4,275.7L442.9,276.2L443.1,277.9L445.9,280.3L446.3,280.8L437.4,280.8L428.6,280.8L419.5,280.8L419.1,271.2L418.6,261.9L417.8,259.8L418.2,258.2L417.8,257.0L418.5,255.8L421.5,255.7L423.6,256.4L425.9,257.2L426.9,257.6L428.5,256.8L429.4,256.1L431.3,255.8L432.9,256.2L433.6,257.5L434.1,256.6L435.9,257.2L437.6,257.4L438.7,256.7L440.5,261.2ZM419.6,316.7L417.8,315.6L417.0,314.8L416.8,314.0L417.2,312.9L417.1,311.9L415.8,310.2L415.5,309.1L415.5,308.5L414.7,307.7L414.6,306.2L414.1,305.2L413.3,305.3L413.5,304.4L414.1,303.3L413.8,302.2L414.5,301.4L414.1,300.8L414.6,299.2L415.6,297.3L417.6,297.5L417.1,287.1L417.1,286.0L419.7,286.0L419.5,280.8L428.6,280.8L437.4,280.8L446.3,280.8L447.2,283.3L446.7,283.8L447.2,286.5L448.2,289.6L449.1,290.2L450.4,291.2L449.3,292.7L447.7,293.1L447.0,293.9L446.8,295.7L446.0,299.5L446.3,300.6L446.0,302.8L445.2,305.4L443.9,306.7L442.9,308.7L442.7,309.7L441.7,310.5L441.1,313.2L441.1,313.5L440.8,313.5L440.8,312.1L440.5,311.2L439.3,310.2L438.9,308.3L439.2,306.4L438.1,306.2L437.9,306.8L436.6,307.0L437.1,307.7L437.4,309.3L436.2,310.7L435.1,312.6L433.9,312.9L431.9,311.3L431.1,311.9L430.9,312.6L429.7,313.1L429.6,313.7L427.3,313.7L427.0,313.1L425.3,313.0L424.5,313.5L423.9,313.3L422.7,311.7L422.3,311.0L420.6,311.4L420.0,312.6L419.5,314.9L418.7,315.4L418.0,315.7L419.6,316.7ZM335.3,300.0L333.8,298.3L332.5,296.3L331.0,295.7L329.9,294.9L328.6,294.9L327.5,295.5L326.4,295.2L325.6,296.1L325.4,294.7L326.1,293.4L326.4,290.9L326.2,288.3L326.0,287.1L326.2,285.8L325.7,284.5L324.5,283.4L325.0,282.5L333.9,282.5L333.5,278.8L334.1,277.4L336.2,277.2L336.3,270.5L343.6,270.6L343.7,266.7L352.1,273.0L348.6,273.0L349.6,284.3L350.6,295.6L351.0,295.9L350.5,297.7L341.3,297.8L341.0,298.4L340.1,298.2L338.8,298.7L337.2,298.0L336.5,298.0L336.1,299.6L335.3,300.0ZM335.3,300.0L336.1,299.6L336.5,298.0L337.2,298.0L338.8,298.7L340.1,298.2L341.0,298.4L341.3,297.8L350.5,297.7L351.0,295.9L350.6,295.6L349.6,284.3L348.6,273.0L352.1,273.0L359.6,278.7L367.2,284.4L367.8,285.6L369.2,286.4L370.2,286.8L370.3,288.4L372.8,288.2L372.8,294.2L371.6,296.0L371.4,297.6L369.4,298.0L366.3,298.2L365.4,299.1L363.9,299.2L362.5,299.3L361.9,298.7L360.7,299.1L358.5,300.2L358.1,301.0L356.3,302.2L356.0,302.9L355.0,303.4L353.9,303.0L353.3,303.7L353.0,305.5L351.1,307.6L351.2,308.5L350.6,309.6L350.7,311.1L349.7,311.5L349.2,311.8L348.9,310.7L348.2,311.0L347.8,311.0L347.4,311.7L345.6,311.7L345.0,311.3L344.7,311.5L344.0,310.8L344.1,310.0L343.8,309.7L343.3,310.0L343.4,309.1L343.9,308.5L343.0,307.4L342.7,306.6L342.2,306.1L341.7,306.0L341.2,306.4L340.4,306.7L339.8,307.3L338.8,307.1L338.2,306.4L337.8,306.3L337.2,306.7L336.8,306.7L336.7,305.7L336.8,304.9L336.7,303.9L335.8,303.2L335.4,301.7L335.3,300.0ZM324.9,302.7L324.0,300.7L322.8,299.7L323.9,299.3L325.0,297.4L325.6,296.1L326.4,295.2L327.5,295.5L328.6,294.9L329.9,294.9L331.0,295.7L332.5,296.3L333.8,298.3L335.3,300.0L335.4,301.7L335.8,303.2L336.7,303.9L336.8,304.9L336.7,305.7L336.4,305.9L335.2,305.6L335.0,306.0L334.5,306.0L332.8,305.4L331.7,305.3L327.5,305.2L326.9,305.5L326.1,305.4L324.9,305.9L324.6,303.9L326.7,303.9L327.2,303.6L327.6,303.5L328.5,302.9L329.4,303.5L330.4,303.5L331.4,302.9L331.0,302.2L330.2,302.6L329.5,302.6L328.6,302.0L327.9,302.0L327.4,302.6L324.9,302.7ZM328.4,309.4L327.2,308.3L326.2,308.1L325.7,307.4L325.7,307.0L325.1,306.4L324.9,305.9L326.1,305.4L326.9,305.5L327.5,305.2L331.7,305.3L331.7,306.2L331.4,306.5L331.6,307.4L331.2,307.7L330.7,307.7L330.1,308.2L329.4,308.1L328.4,309.4ZM343.7,318.1L343.1,318.1L342.6,319.1L341.9,319.1L341.5,318.5L341.6,317.5L340.7,315.9L340.1,316.2L339.6,316.2L338.9,316.4L339.0,315.4L338.6,314.8L338.7,314.0L338.2,312.9L337.6,312.0L335.7,312.0L335.2,312.5L334.6,312.5L334.2,313.1L333.9,313.8L332.7,315.0L331.7,313.4L330.8,312.4L330.2,312.0L329.6,311.5L329.4,310.4L329.1,309.8L328.4,309.4L329.4,308.1L330.1,308.2L330.7,307.7L331.2,307.7L331.6,307.4L331.4,306.5L331.7,306.2L331.7,305.3L332.8,305.4L334.5,306.0L335.0,306.0L335.2,305.6L336.4,305.9L336.7,305.7L336.8,306.7L337.2,306.7L337.8,306.3L338.2,306.4L338.8,307.1L339.8,307.3L340.4,306.7L341.2,306.4L341.7,306.0L342.2,306.1L342.7,306.6L343.0,307.4L343.9,308.5L343.4,309.1L343.3,310.0L343.8,309.7L344.1,310.0L344.0,310.8L344.7,311.5L344.2,311.8L344.0,312.6L344.5,313.7L345.1,315.8L344.3,316.1L344.0,316.5L344.2,317.0L344.1,318.1L343.7,318.1ZM336.8,320.5L336.2,320.3L334.5,319.2L333.3,317.8L332.9,316.9L332.7,315.0L333.9,313.8L334.2,313.1L334.6,312.5L335.2,312.5L335.7,312.0L337.6,312.0L338.2,312.9L338.7,314.0L338.6,314.8L339.0,315.4L338.9,316.4L339.6,316.2L338.5,317.5L337.5,318.9L337.3,319.6L336.8,320.5ZM345.3,326.8L344.7,326.8L342.4,325.6L340.3,323.6L338.3,322.2L336.8,320.5L337.3,319.6L337.5,318.9L338.5,317.5L339.6,316.2L340.1,316.2L340.7,315.9L341.6,317.5L341.5,318.5L341.9,319.1L342.6,319.1L343.1,318.1L343.7,318.1L343.6,318.9L343.8,320.2L343.3,321.3L344.0,322.0L344.7,322.2L345.7,323.3L345.7,324.3L345.5,324.7L345.3,326.8ZM356.5,325.2L355.5,325.2L353.9,324.7L352.4,324.7L349.7,325.2L348.1,325.9L345.8,326.9L345.3,326.8L345.5,324.7L345.7,324.3L345.7,323.3L344.7,322.2L344.0,322.0L343.3,321.3L343.8,320.2L343.6,318.9L343.7,318.1L344.1,318.1L344.2,317.0L344.0,316.5L344.3,316.1L345.1,315.8L344.5,313.7L344.0,312.6L344.2,311.8L344.7,311.5L345.0,311.3L345.6,311.7L347.4,311.7L347.8,311.0L348.2,311.0L348.9,310.7L349.2,311.8L349.7,311.5L350.7,311.1L351.7,311.7L352.1,312.6L353.2,313.1L354.0,312.5L355.0,312.4L356.6,313.0L357.2,316.7L356.2,318.9L355.6,321.9L356.6,324.1L356.5,325.2ZM365.5,322.7L361.9,324.3L360.7,325.1L358.6,325.9L356.5,325.2L356.6,324.1L355.6,321.9L356.2,318.9L357.2,316.7L356.6,313.0L356.3,311.1L356.4,309.6L360.3,309.5L361.4,309.6L362.1,309.2L363.1,309.4L363.0,310.2L363.9,311.6L363.9,313.5L364.2,315.5L364.7,316.5L364.2,318.9L364.4,320.2L365.0,321.8L365.5,322.7ZM367.4,322.2L365.5,322.7L365.0,321.8L364.4,320.2L364.2,318.9L364.7,316.5L364.2,315.5L363.9,313.5L363.9,311.6L363.0,310.2L363.1,309.4L365.2,309.5L364.9,310.9L366.4,312.5L366.5,313.8L366.9,314.4L366.8,320.4L367.4,322.2ZM369.3,321.9L367.4,322.2L366.8,320.4L366.9,314.4L366.5,313.8L366.4,312.5L364.9,310.9L365.2,309.5L365.9,309.2L366.4,308.1L367.5,307.8L368.0,307.0L368.8,306.3L369.6,306.2L371.4,307.8L371.3,308.6L371.8,310.2L371.4,311.2L371.6,311.9L370.5,313.6L369.8,314.3L369.4,316.0L369.4,317.7L369.3,321.9ZM356.6,313.0L355.0,312.4L354.0,312.5L353.2,313.1L352.1,312.6L351.7,311.7L350.7,311.1L350.6,309.6L351.2,308.5L351.1,307.6L353.0,305.5L353.3,303.7L353.9,303.0L355.0,303.4L356.0,302.9L356.3,302.2L358.1,301.0L358.5,300.2L360.7,299.1L361.9,298.7L362.5,299.3L363.9,299.2L363.8,300.5L364.1,301.7L365.4,303.4L365.4,304.7L368.1,305.2L368.0,307.0L367.5,307.8L366.4,308.1L365.9,309.2L365.2,309.5L363.1,309.4L362.1,309.2L361.4,309.6L360.3,309.5L356.4,309.6L356.3,311.1L356.6,313.0ZM368.0,307.0L368.1,305.2L365.4,304.7L365.4,303.4L364.1,301.7L363.8,300.5L363.9,299.2L365.4,299.1L366.3,298.2L369.4,298.0L371.4,297.6L371.6,296.0L372.8,294.2L372.8,288.2L376.0,287.0L382.5,281.9L390.1,276.9L393.7,278.1L395.0,279.5L396.6,278.5L397.2,282.6L398.1,283.3L398.1,284.1L399.1,285.0L398.6,286.1L397.9,291.4L397.8,294.8L395.0,297.3L394.0,300.7L395.0,301.7L395.0,303.4L396.5,303.4L396.3,304.6L395.6,304.8L395.6,305.6L395.1,305.7L393.6,302.8L393.0,302.7L391.2,304.2L389.5,303.4L388.2,303.2L387.6,303.6L386.2,303.5L384.9,304.7L383.7,304.7L380.9,303.4L379.9,304.0L378.7,304.0L377.9,303.0L375.5,302.0L373.1,302.3L372.5,302.9L372.2,304.4L371.5,305.4L371.4,307.8L369.6,306.2L368.8,306.3L368.0,307.0ZM382.7,325.7L380.3,326.7L379.4,326.6L378.5,327.1L376.7,327.1L375.4,325.4L374.7,323.6L373.1,321.8L371.3,321.9L369.3,321.9L369.4,317.7L369.4,316.0L369.8,314.3L370.5,313.6L371.6,311.9L371.4,311.2L371.8,310.2L371.3,308.6L371.4,307.8L371.5,305.4L372.2,304.4L372.5,302.9L373.1,302.3L375.5,302.0L377.9,303.0L378.7,304.0L379.9,304.0L380.9,303.4L383.7,304.7L384.9,304.7L386.2,303.5L387.6,303.6L388.2,303.2L389.5,303.4L391.2,304.2L393.0,302.7L393.6,302.8L395.1,305.7L395.6,305.6L396.5,306.6L396.3,307.1L396.1,308.0L394.2,310.0L393.6,311.7L393.3,313.0L392.9,313.6L392.4,315.4L391.2,316.5L390.8,317.8L390.3,318.9L390.1,320.0L388.5,320.9L387.3,319.8L386.4,319.8L385.0,321.4L384.3,321.4L383.3,323.9L382.7,325.7ZM396.3,304.6L396.5,303.4L395.0,303.4L395.0,301.7L394.0,300.7L395.0,297.3L397.8,294.8L397.9,291.4L398.6,286.1L399.1,285.0L398.1,284.1L398.1,283.3L397.2,282.6L396.6,278.5L398.8,277.1L407.9,282.1L417.1,287.1L417.6,297.5L415.6,297.3L414.6,299.2L414.1,300.8L414.5,301.4L413.8,302.2L414.1,303.3L413.5,304.4L413.3,305.3L414.1,305.2L414.6,306.2L414.7,307.7L415.5,308.5L415.5,309.1L414.1,309.6L412.9,310.6L411.3,313.5L409.2,314.7L407.0,314.5L406.3,314.8L406.6,315.7L405.4,316.6L404.4,317.6L401.5,318.6L400.9,318.0L400.6,318.0L400.1,318.6L398.2,318.8L398.6,318.1L397.8,316.3L397.5,315.2L396.5,314.8L395.1,313.3L395.6,312.0L396.7,312.3L397.3,312.1L398.6,312.1L397.3,309.8L397.4,308.0L397.2,306.3L396.3,304.6ZM393.3,332.3L393.0,332.1L391.6,332.5L390.2,332.1L389.1,332.3L385.3,332.2L385.7,330.2L384.8,328.5L383.7,328.0L383.2,326.8L382.7,326.5L382.7,325.7L383.3,323.9L384.3,321.4L385.0,321.4L386.4,319.8L387.3,319.8L388.5,320.9L390.1,320.0L390.3,318.9L390.8,317.8L391.2,316.5L392.4,315.4L392.9,313.6L393.3,313.0L393.6,311.7L394.2,310.0L396.1,308.0L396.3,307.1L396.5,306.6L395.6,305.6L395.6,304.8L396.3,304.6L397.2,306.3L397.4,308.0L397.3,309.8L398.6,312.1L397.3,312.1L396.7,312.3L395.6,312.0L395.1,313.3L396.5,314.8L397.5,315.2L397.8,316.3L398.6,318.1L398.2,318.8L397.1,321.5L396.6,321.9L396.4,324.0L396.6,325.1L396.4,325.9L397.5,327.2L397.7,328.2L398.6,329.5L399.7,330.3L399.8,331.5L400.0,332.3L399.8,333.7L398.0,333.1L396.2,332.4L393.3,332.3ZM398.2,318.8L400.1,318.6L400.6,318.0L400.9,318.0L401.5,318.6L404.4,317.6L405.4,316.6L406.6,315.7L406.3,314.8L407.0,314.5L409.2,314.7L411.3,313.5L412.9,310.6L414.1,309.6L415.5,309.1L415.8,310.2L417.1,311.9L417.2,312.9L416.8,314.0L417.0,314.8L417.8,315.6L419.6,316.7L420.8,317.8L420.9,318.6L422.4,320.0L423.4,321.1L424.0,322.7L425.7,323.7L426.1,324.5L425.4,324.8L423.9,324.8L422.2,324.5L421.3,324.7L421.0,325.3L420.2,325.4L419.3,324.9L416.8,326.2L415.7,325.9L415.4,326.1L414.7,327.7L413.0,327.2L411.3,326.9L409.8,326.0L407.9,325.1L406.7,325.9L405.8,327.2L405.6,329.1L404.1,328.9L402.6,328.5L401.2,329.8L400.0,332.3L399.8,331.5L399.7,330.3L398.6,329.5L397.7,328.2L397.5,327.2L396.4,325.9L396.6,325.1L396.4,324.0L396.6,321.9L397.1,321.5L398.2,318.8ZM441.1,313.5L441.2,315.5L440.8,316.3L439.6,316.4L438.9,317.9L440.3,318.1L441.5,319.3L441.9,320.4L443.0,321.0L444.4,323.8L442.8,325.5L441.4,327.1L440.0,328.3L438.4,328.3L436.6,328.9L435.1,328.3L434.1,329.0L432.1,327.3L431.5,326.2L430.3,326.7L429.2,326.6L428.6,327.0L427.5,326.7L426.1,324.5L425.7,323.7L424.0,322.7L423.4,321.1L422.4,320.0L420.9,318.6L420.8,317.8L419.6,316.7L418.0,315.7L418.7,315.4L419.5,314.9L420.0,312.6L420.6,311.4L422.3,311.0L422.7,311.7L423.9,313.3L424.5,313.5L425.3,313.0L427.0,313.1L427.3,313.7L429.6,313.7L429.7,313.1L430.9,312.6L431.1,311.9L431.9,311.3L433.9,312.9L435.1,312.6L436.2,310.7L437.4,309.3L437.1,307.7L436.6,307.0L437.9,306.8L438.1,306.2L439.2,306.4L438.9,308.3L439.3,310.2L440.5,311.2L440.8,312.1L440.8,313.5L441.1,313.5ZM449.6,299.1L451.1,300.3L452.4,299.7L453.0,300.3L454.5,300.3L456.6,301.3L457.2,302.3L458.2,303.1L459.3,304.6L460.1,305.5L459.3,306.6L458.6,307.8L458.8,308.5L458.9,309.4L460.1,309.4L460.7,309.2L461.2,309.7L460.7,310.6L461.6,312.0L462.5,313.3L463.4,314.2L471.0,317.3L473.0,317.3L466.6,325.1L463.6,325.3L461.6,327.1L460.1,327.2L459.5,328.0L457.9,328.0L457.0,327.1L454.9,328.2L454.3,329.3L452.7,329.1L452.2,328.8L451.7,328.8L450.9,328.8L448.0,326.6L446.4,326.6L445.6,325.7L445.6,324.3L444.4,323.8L443.0,321.0L441.9,320.4L441.5,319.3L440.3,318.1L438.9,317.9L439.6,316.4L440.8,316.3L441.2,315.5L441.1,313.2L441.7,310.5L442.7,309.7L442.9,308.7L443.9,306.7L445.2,305.4L446.0,302.8L446.3,300.6L449.0,301.1L449.6,299.1ZM460.1,305.5L459.3,304.6L458.2,303.1L457.2,302.3L456.6,301.3L454.5,300.3L453.0,300.3L452.4,299.7L451.1,300.3L449.6,299.1L449.0,301.1L446.3,300.6L446.0,299.5L446.8,295.7L447.0,293.9L447.7,293.1L449.3,292.7L450.4,291.2L451.9,294.2L452.6,296.6L453.9,297.9L457.2,300.4L458.5,301.9L459.8,303.4L460.6,304.3L461.7,305.0L461.1,305.7L460.1,305.5ZM461.7,305.0L462.3,305.9L462.3,307.0L461.0,307.6L462.0,308.3L461.2,309.7L460.7,309.2L460.1,309.4L458.9,309.4L458.8,308.5L458.6,307.8L459.3,306.6L460.1,305.5L461.1,305.7L461.7,305.0ZM477.1,308.0L478.3,307.7L479.3,306.8L480.2,306.8L480.3,307.5L480.1,309.0L480.2,310.4L479.7,311.4L479.2,314.2L478.2,317.1L476.9,320.4L475.0,324.3L473.1,327.2L470.4,330.7L468.1,332.8L464.7,335.5L462.6,337.4L460.0,340.6L459.5,342.0L459.0,342.6L457.6,340.4L457.5,330.9L459.5,328.0L460.1,327.2L461.6,327.1L463.6,325.3L466.6,325.1L473.0,317.3L474.5,315.1L475.5,313.5L475.4,312.2L475.3,309.5L475.3,308.5L475.3,308.4L476.0,308.4L477.1,308.0ZM475.3,308.4L475.5,313.5L474.5,315.1L473.0,317.3L471.0,317.3L463.4,314.2L462.5,313.3L461.6,312.0L460.7,310.6L461.2,309.7L462.0,308.3L462.8,308.8L463.3,309.9L464.3,310.9L465.5,310.9L467.6,310.3L470.1,310.0L472.1,309.1L473.2,309.0L474.0,308.5L475.3,308.4ZM457.6,340.4L459.0,342.6L457.3,343.6L456.8,344.7L455.9,344.9L455.5,346.8L454.8,347.8L454.3,349.6L453.4,350.4L450.1,347.8L450.0,346.3L441.7,341.0L441.3,340.7L441.2,337.9L441.9,336.8L443.0,335.1L443.9,333.2L442.8,330.2L442.5,328.9L441.4,327.1L442.8,325.5L444.4,323.8L445.6,324.3L445.6,325.7L446.4,326.6L448.0,326.6L450.9,328.8L451.7,328.8L452.2,328.8L452.7,329.1L454.3,329.3L454.9,328.2L457.0,327.1L457.9,328.0L459.5,328.0L457.5,330.9L457.6,340.4ZM436.6,340.9L434.0,340.8L433.2,341.1L431.9,342.0L431.3,341.7L431.3,339.7L431.9,338.7L432.0,336.6L432.5,335.4L433.3,334.1L434.2,333.4L435.0,332.5L434.0,332.1L434.1,329.0L435.1,328.3L436.6,328.9L438.4,328.3L440.0,328.3L441.4,327.1L442.5,328.9L442.8,330.2L443.9,333.2L443.0,335.1L441.9,336.8L441.2,337.9L441.3,340.7L436.6,340.9ZM441.3,340.7L441.7,341.0L450.0,346.3L450.1,347.8L453.4,350.4L452.3,353.6L452.4,355.1L453.8,356.1L453.9,356.7L453.2,358.3L453.3,359.1L453.2,360.4L453.9,362.0L454.8,364.6L455.6,365.1L453.7,366.7L451.2,367.7L449.8,367.6L449.0,368.4L447.4,368.5L446.8,368.8L444.0,368.1L442.3,368.3L441.8,364.7L441.0,363.5L440.6,362.8L438.3,362.3L437.0,361.5L435.6,361.1L434.7,360.6L433.7,360.0L432.6,356.7L431.3,355.2L430.8,353.7L431.1,352.3L430.7,349.9L431.6,349.8L432.5,348.9L433.4,347.5L434.0,347.0L433.9,346.1L433.5,345.5L433.3,344.5L434.0,344.2L434.2,342.6L433.2,341.1L434.0,340.8L436.6,340.9L441.3,340.7ZM433.2,341.1L434.2,342.6L434.0,344.2L433.3,344.5L432.1,344.3L431.4,345.8L430.0,345.6L430.2,344.2L430.5,344.0L430.6,342.4L431.3,341.7L431.9,342.0L433.2,341.1ZM430.7,349.9L430.6,346.8L430.0,345.6L431.4,345.8L432.1,344.3L433.3,344.5L433.5,345.5L433.9,346.1L434.0,347.0L433.4,347.5L432.5,348.9L431.6,349.8L430.7,349.9ZM434.1,329.0L434.0,332.1L435.0,332.5L434.2,333.4L433.3,334.1L432.5,335.4L432.0,336.6L431.9,338.7L431.3,339.7L431.3,341.7L430.6,342.4L430.5,344.0L430.2,344.2L430.0,345.6L430.6,346.8L430.7,349.9L431.1,352.3L430.8,353.7L431.3,355.2L432.6,356.7L433.7,360.0L432.9,359.7L429.7,360.2L429.1,360.5L428.4,362.1L428.9,363.3L428.5,366.4L428.1,369.0L428.7,369.4L430.3,370.5L430.9,370.0L431.0,372.8L429.3,372.8L428.4,371.4L427.6,370.2L425.8,369.9L425.3,368.5L423.9,369.3L422.1,368.9L421.4,367.8L419.9,367.5L418.8,367.6L418.7,366.8L417.9,366.7L416.9,366.6L415.5,367.0L414.5,366.9L413.9,367.1L414.1,364.0L413.3,363.1L413.2,361.5L413.5,359.9L413.1,358.9L413.1,357.2L410.3,357.3L410.5,356.3L409.3,356.3L409.2,356.8L407.8,356.9L407.2,358.4L406.8,359.1L405.5,358.7L404.8,359.1L403.3,359.3L402.4,357.9L401.9,357.0L401.2,355.5L400.7,353.5L393.9,353.5L393.1,353.8L392.4,353.8L391.5,354.1L391.1,353.3L391.7,353.0L391.8,351.9L392.2,351.2L393.0,350.7L393.6,350.9L394.4,349.9L395.7,350.0L395.8,350.7L396.7,351.2L398.0,349.5L399.4,348.3L400.0,347.4L399.9,345.3L400.9,342.7L402.0,341.4L403.5,340.1L403.8,339.3L403.8,338.4L404.2,337.4L404.1,336.0L404.4,333.7L404.8,332.0L405.5,330.6L405.6,329.1L405.8,327.2L406.7,325.9L407.9,325.1L409.8,326.0L411.3,326.9L413.0,327.2L414.7,327.7L415.4,326.1L415.7,325.9L416.8,326.2L419.3,324.9L420.2,325.4L421.0,325.3L421.3,324.7L422.2,324.5L423.9,324.8L425.4,324.8L426.1,324.5L427.5,326.7L428.6,327.0L429.2,326.6L430.3,326.7L431.5,326.2L432.1,327.3L434.1,329.0ZM405.6,329.1L405.5,330.6L404.8,332.0L404.4,333.7L404.1,336.0L404.2,337.4L403.8,338.4L403.8,339.3L403.5,340.1L402.0,341.4L400.9,342.7L399.9,345.3L400.0,347.4L399.4,348.3L398.0,349.5L396.7,351.2L395.8,350.7L395.7,350.0L394.4,349.9L393.6,350.9L393.0,350.7L392.2,349.8L391.5,350.2L390.5,351.4L388.6,348.6L390.4,347.2L389.6,345.4L390.3,344.8L391.9,344.4L392.1,343.3L393.3,344.5L395.3,344.6L396.1,343.4L396.4,341.7L396.1,339.6L395.0,338.1L396.0,335.1L395.4,334.5L393.7,334.8L393.1,333.4L393.3,332.3L396.2,332.4L398.0,333.1L399.8,333.7L400.0,332.3L401.2,329.8L402.6,328.5L404.1,328.9L405.6,329.1ZM391.1,353.3L390.5,351.4L391.5,350.2L392.2,349.8L393.0,350.7L392.2,351.2L391.8,351.9L391.7,353.0L391.1,353.3ZM388.6,348.6L386.3,346.0L384.8,343.8L383.4,341.1L383.5,340.2L384.0,339.4L384.5,337.5L385.0,335.6L385.8,335.4L389.1,335.4L389.1,332.3L390.2,332.1L391.6,332.5L393.0,332.1L393.3,332.3L393.1,333.4L393.7,334.8L395.4,334.5L396.0,335.1L395.0,338.1L396.1,339.6L396.4,341.7L396.1,343.4L395.3,344.6L393.3,344.5L392.1,343.3L391.9,344.4L390.3,344.8L389.6,345.4L390.4,347.2L388.6,348.6ZM385.0,335.6L384.6,335.2L385.3,332.2L389.1,332.3L389.1,335.4L385.8,335.4L385.0,335.6ZM400.7,353.5L401.2,355.5L401.9,357.0L402.4,357.9L403.3,359.3L404.8,359.1L405.5,358.7L406.8,359.1L407.2,358.4L407.8,356.9L409.2,356.8L409.3,356.3L410.5,356.3L410.3,357.3L413.1,357.2L413.1,358.9L413.5,359.9L413.2,361.5L413.3,363.1L414.1,364.0L413.9,367.1L414.5,366.9L415.5,367.0L416.9,366.6L417.9,366.7L418.2,367.5L417.9,368.8L418.3,370.0L417.9,371.0L418.1,371.9L413.3,371.9L413.0,380.2L414.5,382.3L415.9,383.9L411.7,385.0L406.2,384.6L404.6,383.4L395.4,383.5L395.1,383.7L393.7,382.5L392.3,382.4L390.9,382.9L389.8,383.4L389.6,381.7L390.0,379.4L390.8,377.0L390.9,375.9L391.7,373.6L392.3,372.5L393.6,370.8L394.3,369.6L394.6,367.7L394.5,366.2L393.8,365.3L393.2,363.7L392.7,362.1L392.8,361.6L393.5,360.5L392.8,358.0L392.4,356.3L391.2,354.6L391.5,354.1L392.4,353.8L393.1,353.8L393.9,353.5L400.7,353.5ZM438.3,362.3L439.4,363.5L439.9,365.7L439.5,366.4L439.0,368.5L439.4,370.7L438.6,371.6L437.8,374.0L439.0,374.7L432.0,376.8L432.2,378.7L430.4,379.0L429.1,380.1L428.8,381.0L428.0,381.2L425.9,383.3L424.6,385.0L423.8,385.1L423.1,384.8L420.5,384.5L420.1,384.3L420.1,384.1L419.2,383.5L417.8,383.4L415.9,383.9L414.5,382.3L413.0,380.2L413.3,371.9L418.1,371.9L417.9,371.0L418.3,370.0L417.9,368.8L418.2,367.5L417.9,366.7L418.7,366.8L418.8,367.6L419.9,367.5L421.4,367.8L422.1,368.9L423.9,369.3L425.3,368.5L425.8,369.9L427.6,370.2L428.4,371.4L429.3,372.8L431.0,372.8L430.9,370.0L430.3,370.5L428.7,369.4L428.1,369.0L428.5,366.4L428.9,363.3L428.4,362.1L429.1,360.5L429.7,360.2L432.9,359.7L433.7,360.0L434.7,360.6L435.6,361.1L437.0,361.5L438.3,362.3ZM438.3,362.3L440.6,362.8L441.0,363.5L441.8,364.7L442.3,368.3L441.6,370.3L442.1,373.6L442.9,373.6L443.7,374.5L444.6,376.3L444.7,379.7L443.6,380.3L442.9,382.1L441.5,380.4L441.4,378.6L441.9,377.4L441.8,376.3L440.9,375.7L440.3,375.9L439.0,374.7L437.8,374.0L438.6,371.6L439.4,370.7L439.0,368.5L439.5,366.4L439.9,365.7L439.4,363.5L438.3,362.3ZM442.3,368.3L444.0,368.1L446.8,368.8L447.4,368.5L449.0,368.4L449.8,367.6L451.2,367.7L453.7,366.7L455.6,365.1L455.9,366.3L455.8,368.9L456.0,371.2L455.9,375.3L456.2,376.5L455.5,378.4L454.5,380.2L452.9,381.8L450.8,382.8L448.2,384.1L445.5,386.9L444.6,387.4L442.9,389.2L441.9,389.8L441.6,391.7L442.6,393.7L443.0,395.2L443.0,396.0L443.3,395.9L443.1,398.4L442.7,399.6L443.2,400.1L442.8,401.2L441.8,402.1L439.9,403.0L437.1,404.4L436.1,405.4L436.2,406.5L436.7,406.6L436.4,408.0L434.8,408.0L434.7,406.8L434.4,405.7L434.3,404.7L434.8,401.8L434.4,400.0L433.5,396.3L436.0,393.3L436.7,391.5L437.0,391.2L437.4,389.7L437.0,388.9L437.2,386.9L437.8,385.1L437.9,381.8L436.8,381.0L435.7,380.8L435.2,380.1L434.2,379.6L432.3,379.7L432.2,378.7L432.0,376.8L439.0,374.7L440.3,375.9L440.9,375.7L441.8,376.3L441.9,377.4L441.4,378.6L441.5,380.4L442.9,382.1L443.6,380.3L444.7,379.7L444.6,376.3L443.7,374.5L442.9,373.6L442.1,373.6L441.6,370.3L442.3,368.3ZM433.5,396.3L432.3,396.0L431.5,396.3L430.4,395.9L429.5,395.9L428.1,394.7L426.4,394.3L425.8,392.6L425.8,391.7L424.9,391.4L422.4,388.6L421.8,387.0L421.3,386.6L420.5,384.5L423.1,384.8L423.8,385.1L424.6,385.0L425.9,383.3L428.0,381.2L428.8,381.0L429.1,380.1L430.4,379.0L432.2,378.7L432.3,379.7L434.2,379.6L435.2,380.1L435.7,380.8L436.8,381.0L437.9,381.8L437.8,385.1L437.2,386.9L437.0,388.9L437.4,389.7L437.0,391.2L436.7,391.5L436.0,393.3L433.5,396.3ZM429.5,395.9L426.2,397.8L424.1,399.7L423.3,401.5L422.6,402.5L421.3,402.7L420.9,403.9L420.6,404.7L419.2,405.3L417.3,405.2L416.3,404.5L415.4,404.2L414.2,404.8L413.6,406.0L412.6,406.8L411.4,408.0L409.8,408.2L409.3,407.3L409.6,405.7L408.4,403.3L407.8,402.9L408.0,395.2L410.2,395.1L410.6,385.8L412.3,385.8L415.8,384.8L416.7,385.9L418.2,384.9L418.8,384.9L420.1,384.3L420.5,384.5L421.3,386.6L421.8,387.0L422.4,388.6L424.9,391.4L425.8,391.7L425.8,392.6L426.4,394.3L428.1,394.7L429.5,395.9ZM399.4,412.8L397.9,410.8L397.1,408.9L396.6,406.4L396.1,404.5L395.5,400.5L395.5,397.4L395.3,395.9L394.4,394.8L393.3,392.7L392.2,389.5L391.7,387.9L389.9,385.4L389.8,383.4L390.9,382.9L392.3,382.4L393.7,382.5L395.1,383.7L395.4,383.5L404.6,383.4L406.2,384.6L411.7,385.0L415.9,383.9L417.8,383.4L419.2,383.5L420.1,384.1L420.1,384.3L418.8,384.9L418.2,384.9L416.7,385.9L415.8,384.8L412.3,385.8L410.6,385.8L410.2,395.1L408.0,395.2L407.8,402.9L407.3,412.5L405.3,413.8L404.1,414.0L402.7,413.5L401.7,413.3L401.4,412.2L400.5,411.5L399.4,412.8ZM399.4,412.8L400.5,411.5L401.4,412.2L401.7,413.3L402.7,413.5L404.1,414.0L405.3,413.8L407.3,412.5L407.8,402.9L408.4,403.3L409.6,405.7L409.3,407.3L409.8,408.2L411.4,408.0L412.6,406.8L413.6,406.0L414.2,404.8L415.4,404.2L416.3,404.5L417.3,405.2L419.2,405.3L420.6,404.7L420.9,403.9L421.3,402.7L422.6,402.5L423.3,401.5L424.1,399.7L426.2,397.8L429.5,395.9L430.4,395.9L431.5,396.3L432.3,396.0L433.5,396.3L434.4,400.0L434.8,401.8L434.3,404.7L434.4,405.7L433.3,405.2L432.6,405.4L432.4,406.1L431.7,407.1L431.7,408.0L432.9,409.4L434.2,409.1L434.8,408.0L436.4,408.0L435.8,409.9L435.3,412.1L434.6,413.2L433.0,414.6L432.6,414.9L431.5,416.3L430.8,417.6L429.4,419.5L426.7,422.2L425.0,423.7L423.2,424.9L420.8,425.9L419.7,426.1L419.4,426.8L418.1,426.4L417.0,426.9L414.6,426.4L413.3,426.7L412.4,426.6L410.1,427.6L408.2,428.1L406.8,429.0L405.8,429.1L404.9,428.2L404.2,428.1L403.3,427.0L403.2,427.3L402.9,426.6L403.0,425.1L402.4,423.3L403.2,422.9L403.2,420.8L401.9,418.4L400.9,416.2L399.4,412.8ZM427.5,413.8L428.2,414.6L427.4,415.8L426.9,416.7L425.7,417.1L425.2,417.9L424.4,418.2L422.9,416.2L424.2,414.5L425.5,413.5L426.5,413.0L427.5,413.8ZM434.8,408.0L434.2,409.1L432.9,409.4L431.7,408.0L431.7,407.1L432.4,406.1L432.6,405.4L433.3,405.2L434.4,405.7L434.7,406.8L434.8,408.0ZM476.5,370.8L477.1,371.9L477.6,373.6L477.8,376.7L478.3,378.0L478.0,379.2L477.5,380.0L476.9,378.4L476.4,379.2L476.7,381.1L476.4,382.3L475.8,382.9L475.5,385.1L474.3,388.1L473.0,391.7L471.2,396.6L470.1,400.3L468.8,403.3L466.9,403.9L464.8,405.0L463.6,404.4L461.9,403.4L461.4,402.0L461.4,399.7L460.8,397.7L460.7,395.8L461.2,393.9L462.3,393.4L462.4,392.6L463.6,390.6L463.9,388.9L463.5,387.7L463.1,386.0L463.1,383.6L464.0,382.2L464.4,380.5L465.5,380.4L466.8,379.9L467.7,379.4L468.7,379.4L470.1,377.9L472.1,376.3L472.8,375.0L472.6,373.9L473.5,374.2L474.9,372.4L475.0,370.8L475.8,369.6L476.5,370.8ZM414.9,161.6L416.4,160.8L419.5,162.2L424.3,162.7L431.5,165.2L433.2,166.2L433.8,167.8L432.3,168.9L429.6,169.5L421.4,167.8L420.2,168.1L423.5,169.8L423.9,170.8L424.7,173.2L427.2,173.9L428.7,174.5L428.6,173.4L427.3,172.4L428.1,171.5L432.8,172.9L434.1,172.4L432.4,170.7L435.7,168.5L437.3,168.6L439.2,169.4L439.7,167.8L437.7,166.5L438.1,165.2L436.3,163.8L441.3,164.5L442.8,165.7L440.7,166.0L441.2,167.3L442.9,168.0L445.3,167.6L445.2,166.1L448.3,165.0L453.3,163.1L454.6,163.2L453.6,164.6L455.8,164.8L456.7,164.1L459.8,164.0L461.8,163.1L464.4,164.4L465.6,163.0L463.1,161.7L463.6,161.0L468.9,161.6L471.6,162.3L479.2,164.8L479.6,163.7L477.2,162.5L476.9,162.0L474.7,161.8L474.6,160.8L472.7,159.1L472.2,158.4L474.0,156.5L473.8,154.5L474.6,154.1L479.3,154.7L480.5,155.9L480.1,157.6L481.6,158.3L483.1,159.8L484.7,162.8L487.5,164.1L487.7,165.6L486.2,168.8L488.4,169.2L488.6,168.3L490.1,167.8L489.9,166.7L490.7,165.6L488.9,164.3L488.8,162.8L486.8,162.7L485.6,161.4L485.4,159.3L482.1,157.5L484.0,156.1L482.5,154.6L483.3,154.5L485.0,155.7L485.8,157.7L487.9,158.1L486.0,156.6L488.1,155.7L491.3,155.6L495.3,156.9L492.4,155.1L490.5,152.9L492.9,152.4L496.7,152.5L499.9,152.3L497.6,151.2L498.2,149.8L499.9,149.8L501.9,148.8L505.7,148.5L505.6,148.0L509.4,147.8L511.1,148.2L513.3,147.2L516.2,147.2L515.5,146.3L515.9,145.5L518.4,144.7L521.8,145.3L520.4,145.8L524.2,146.1L525.9,147.1L526.6,146.6L531.1,146.6L535.8,147.6L538.0,148.4L539.0,149.4L538.1,150.0L535.4,151.1L534.9,151.8L537.2,152.0L540.1,152.6L541.1,152.2L543.4,153.5L543.5,153.0L545.7,152.6L551.2,153.0L552.7,154.0L559.8,154.3L557.8,152.7L561.7,153.0L564.2,153.0L568.2,154.1L570.7,155.5L570.8,156.4L574.9,158.1L578.6,158.9L577.3,156.7L581.2,157.6L583.2,157.0L587.2,157.7L587.6,157.1L590.7,157.4L586.8,155.4L587.7,154.5L604.2,155.9L607.4,157.2L614.0,158.8L620.0,158.4L623.8,158.7L626.5,159.7L628.6,161.2L631.6,161.9L633.2,161.4L636.0,161.4L639.8,161.8L642.6,161.5L648.4,163.5L649.5,162.8L646.0,161.4L645.2,160.4L651.4,161.0L654.7,160.9L661.2,161.9L665.0,162.9L678.5,171.9L677.7,172.9L675.2,172.7L678.5,174.0L682.2,175.9L683.9,176.5L685.5,177.5L685.9,178.1L681.8,177.6L679.1,179.4L677.9,179.6L677.3,181.3L676.4,182.7L677.1,183.8L672.4,182.2L669.9,184.1L668.0,183.2L667.5,184.2L664.6,183.9L665.9,185.4L666.4,187.8L667.5,188.8L670.3,189.3L674.0,192.9L672.3,193.0L673.7,195.0L675.6,196.0L673.6,197.3L675.7,200.2L673.4,200.8L675.3,203.3L674.6,205.6L672.3,203.9L668.0,200.3L661.4,194.8L658.8,191.4L658.9,189.9L657.7,188.8L660.0,188.2L659.9,185.2L660.2,182.7L661.2,180.8L658.6,177.5L656.6,177.7L657.9,179.7L656.4,182.3L651.5,179.4L647.8,180.2L647.7,184.1L650.9,185.6L647.5,186.2L644.8,186.5L643.1,184.8L639.8,184.4L638.8,185.6L632.7,185.1L627.3,185.9L625.9,190.6L623.9,196.4L627.2,196.7L629.5,198.2L631.8,198.8L632.0,197.6L634.3,197.7L639.5,200.4L641.4,202.6L642.0,205.1L644.2,208.1L646.4,212.1L645.9,215.8L646.5,217.6L645.7,220.6L644.8,223.5L644.5,225.0L642.6,226.6L641.3,226.6L639.2,225.3L637.6,227.2L637.8,228.1L637.2,227.6L636.4,226.3L637.4,226.2L635.9,223.2L633.9,221.0L635.1,220.1L637.9,220.6L637.7,218.1L636.5,215.3L636.7,214.3L636.1,212.0L633.3,212.8L632.3,213.8L629.2,213.8L626.7,211.4L623.1,209.6L619.0,208.8L616.5,206.3L614.7,204.8L613.1,203.7L610.0,201.2L607.5,200.3L604.0,199.5L601.5,199.6L599.4,200.0L598.7,201.3L600.2,201.9L601.3,203.3L600.8,204.1L600.8,206.7L601.6,207.8L599.8,209.4L596.8,208.5L594.5,208.7L592.9,207.8L591.6,207.6L589.8,209.3L587.4,209.8L585.9,210.4L583.1,210.0L581.3,210.0L579.3,208.7L576.6,207.5L574.4,207.2L572.1,207.5L570.5,208.0L567.0,206.9L565.5,205.0L562.8,204.4L560.8,204.1L558.0,203.0L557.5,205.6L559.1,207.1L558.1,208.9L554.9,208.2L552.8,208.2L550.9,207.0L548.8,206.9L546.6,206.2L544.2,207.4L541.5,209.5L539.6,210.0L538.9,210.2L537.1,208.6L534.7,209.0L533.3,207.9L531.7,207.4L530.0,205.9L528.7,205.5L526.2,206.1L522.7,204.7L522.3,206.0L514.9,199.7L511.4,197.7L511.8,197.0L508.0,199.3L506.2,199.4L505.8,198.1L502.9,197.2L501.1,197.9L499.4,195.3L495.7,194.7L494.4,195.8L490.0,196.7L489.3,197.3L482.4,198.2L481.8,199.0L483.9,200.7L482.2,201.4L482.8,202.0L481.4,203.3L485.2,205.0L485.2,206.2L482.3,206.1L482.0,206.8L479.0,205.5L475.9,205.6L474.1,206.6L471.4,205.6L466.5,203.9L463.5,203.9L460.1,206.7L460.4,208.5L458.0,207.1L457.1,209.8L457.8,210.3L457.1,212.3L459.3,214.0L460.8,213.9L462.4,215.6L462.6,216.9L463.7,217.3L463.1,218.8L461.3,219.3L459.8,221.9L462.2,224.4L462.4,226.1L465.4,229.1L464.3,230.2L464.1,230.8L463.1,230.7L461.4,229.1L460.7,229.0L459.3,228.4L458.4,227.4L456.4,226.8L455.2,227.2L454.7,226.7L451.6,225.5L448.5,225.1L446.6,224.7L446.4,225.0L443.4,222.8L440.8,221.8L438.8,220.3L440.2,219.9L441.5,217.7L440.2,216.7L443.0,215.7L442.8,215.1L441.1,215.5L440.9,214.4L441.8,213.7L443.8,213.5L443.9,212.7L443.2,211.3L443.7,209.9L443.5,209.2L440.4,208.4L439.2,208.4L437.7,207.2L436.3,207.6L433.6,206.7L433.5,206.2L432.6,205.1L431.0,205.0L430.6,204.2L431.0,203.7L429.5,202.3L427.5,202.6L426.9,202.4L426.5,203.0L425.7,202.9L424.9,201.3L424.3,200.5L424.7,200.2L426.2,200.3L426.9,199.8L426.2,199.1L424.8,198.7L424.8,198.2L423.9,197.8L422.4,196.2L422.7,195.5L422.3,194.4L420.3,193.8L419.3,194.1L418.9,193.4L416.8,192.8L415.9,191.4L415.5,190.2L414.5,189.7L415.2,188.9L414.2,186.6L415.2,185.2L414.9,184.8L416.7,183.5L414.5,182.4L417.8,179.3L419.1,178.0L419.5,176.8L416.5,175.2L416.9,173.7L414.9,171.9L415.6,170.0L412.9,167.4L414.1,165.7L411.2,164.2L411.0,162.7L412.3,162.5L414.9,161.6ZM47.7,171.9L61.2,162.9L62.7,164.6L63.8,166.8L61.6,168.2L62.0,168.8L64.0,167.1L68.1,167.5L68.5,169.6L65.4,170.6L62.3,170.8L59.1,173.1L57.7,173.6L56.2,173.5L56.0,172.7L54.6,172.0L55.6,171.0L54.4,170.6L51.9,170.9L52.2,170.1L53.7,169.3L50.9,169.8L50.1,170.9L47.7,171.9ZM658.4,158.8L656.7,158.9L655.3,158.3L655.9,157.3L658.4,158.8ZM70.3,157.3L70.7,157.3L73.4,157.9L72.7,158.2L70.2,158.7L67.8,158.8L70.3,157.3ZM465.8,146.2L467.5,147.0L467.0,147.6L462.3,148.6L458.3,149.6L454.8,151.5L453.6,153.5L452.3,155.5L453.5,157.3L457.6,159.1L456.7,159.3L451.2,159.0L450.3,158.0L447.1,157.5L446.3,156.3L447.7,155.8L447.0,154.7L449.2,152.9L447.6,152.6L450.3,150.8L449.4,149.9L452.1,148.9L456.3,147.6L461.1,147.2L463.1,146.4L465.8,146.2ZM497.7,138.3L501.6,139.2L507.2,140.8L508.9,142.5L506.0,142.7L501.3,142.2L498.0,141.5L495.4,140.2L493.0,139.9L495.2,138.7L497.7,138.3ZM517.9,143.5L510.5,144.3L510.0,141.8L510.9,141.6L512.2,141.7L517.3,142.8L517.9,143.5ZM574.9,147.8L579.1,147.9L586.5,149.0L587.7,150.5L581.8,150.4L580.0,150.9L574.9,149.6L573.5,148.2L574.9,147.8ZM588.6,149.1L592.0,149.4L596.8,149.9L596.3,150.7L593.5,150.5L589.4,149.7L588.6,149.1ZM587.2,152.4L590.6,153.2L591.6,153.8L589.2,153.8L585.6,153.5L585.2,153.4L585.5,152.6L587.2,152.4ZM649.0,206.3L654.6,210.8L651.0,209.9L652.5,213.6L656.4,216.2L657.6,218.0L655.0,216.5L655.0,218.4L653.1,216.3L651.6,213.8L649.3,211.1L648.3,209.1L645.7,205.8L642.5,203.3L639.7,199.9L640.5,198.8L638.7,197.6L639.2,197.3L641.2,198.9L644.0,201.3L646.1,203.8L649.0,206.3ZM426.7,139.4L429.3,139.1L431.4,139.1L432.0,139.6L432.6,139.2L433.7,138.9L436.1,139.2L435.7,139.5L433.9,139.7L432.8,139.9L432.7,140.1L431.3,140.4L429.4,140.0L429.9,139.5L426.7,139.4ZM441.0,230.4L444.2,231.4L446.6,231.0L448.4,231.2L450.7,229.8L452.9,229.7L455.2,231.0L455.7,231.9L455.8,233.2L457.4,233.8L458.4,234.6L457.1,235.3L458.3,238.3L458.0,239.1L459.5,241.2L458.6,241.6L457.7,240.9L455.1,240.6L454.3,241.0L451.9,241.4L450.7,241.4L448.4,242.4L446.6,242.4L445.4,241.9L443.1,242.6L442.4,242.1L442.4,243.6L441.9,244.1L441.4,244.7L440.5,243.5L441.2,242.5L439.9,242.7L438.0,242.1L436.7,243.7L433.4,243.9L431.5,242.6L429.2,242.5L428.8,243.6L427.4,243.9L425.1,242.5L422.8,242.5L421.2,239.9L419.5,238.5L420.3,236.4L418.9,235.2L420.9,232.7L424.2,232.6L424.8,230.7L428.9,231.0L431.2,229.3L433.6,228.6L437.0,228.5L441.0,230.4ZM420.7,232.0L419.1,233.4L418.3,232.2L418.2,231.7L418.7,231.4L419.2,229.8L418.1,229.1L420.1,228.3L422.0,228.6L422.4,229.6L424.3,230.5L424.0,231.1L421.5,231.2L420.7,232.0ZM434.2,246.5L434.4,246.4L434.6,245.8L436.2,245.9L438.1,245.1L436.7,246.2L437.0,246.9L434.9,248.0L433.8,247.6L433.2,246.6L434.2,246.5ZM450.7,229.8L450.8,228.8L449.9,227.0L448.6,226.0L447.3,225.7L446.4,225.0L446.6,224.7L448.5,225.1L451.6,225.5L454.7,226.7L455.2,227.2L456.4,226.8L458.4,227.4L459.3,228.4L460.7,229.0L460.3,229.4L461.6,230.8L461.4,231.1L460.2,230.9L458.5,230.2L458.0,230.6L455.2,231.0L452.9,229.7L450.7,229.8ZM455.2,231.0L458.0,230.6L458.6,231.3L459.5,231.7L459.2,232.4L460.5,233.3L460.1,234.1L461.1,234.8L462.1,235.2L462.5,237.0L461.8,237.1L460.6,235.6L460.6,235.2L459.6,235.2L458.9,234.5L458.4,234.6L457.4,233.8L455.8,233.2L455.7,231.9L455.2,231.0ZM458.9,234.5L459.6,235.2L460.6,235.2L460.6,235.6L461.8,237.1L460.2,236.8L458.9,235.5L458.4,234.6L458.9,234.5ZM463.1,230.7L464.1,230.8L464.3,230.2L465.4,229.1L466.8,230.5L468.2,232.4L469.2,232.5L470.0,233.2L468.3,233.4L468.4,235.4L468.2,236.3L467.5,236.9L467.8,238.2L467.3,238.3L465.7,237.0L466.2,235.7L465.4,234.9L464.7,235.1L462.5,237.0L462.1,235.2L461.1,234.8L460.1,234.1L460.5,233.3L459.2,232.4L459.5,231.7L458.6,231.3L458.0,230.6L458.5,230.2L460.2,230.9L461.4,231.1L461.6,230.8L460.3,229.4L460.7,229.0L461.4,229.1L463.1,230.7ZM441.4,252.8L441.4,252.8L441.7,252.4L441.5,251.3L441.9,249.9L442.9,248.9L442.5,247.9L441.5,247.8L441.0,245.8L441.4,244.7L441.9,244.1L442.4,243.6L442.4,242.1L443.1,242.6L445.4,241.9L446.6,242.4L448.4,242.4L450.7,241.4L451.9,241.4L454.3,241.0L453.4,242.6L452.3,243.3L452.8,245.2L452.5,248.3L448.0,251.1L444.0,253.9L441.4,252.8ZM441.5,251.3L440.9,251.4L440.8,251.8L440.0,251.8L440.6,249.7L441.4,247.9L441.5,247.8L442.5,247.9L442.9,248.9L441.9,249.9L441.5,251.3ZM441.4,252.8L441.2,253.6L440.3,253.3L440.0,255.0L440.6,255.3L440.1,255.7L440.1,256.4L441.1,256.0L441.2,257.0L440.5,261.2L438.7,256.7L439.2,255.8L439.0,255.7L439.5,254.5L439.7,252.5L440.0,251.8L440.0,251.8L440.8,251.8L440.9,251.4L441.5,251.3L441.7,252.4L441.4,252.8L441.4,252.8ZM441.2,253.6L441.3,255.2L441.1,256.0L440.1,256.4L440.1,255.7L440.6,255.3L440.0,255.0L440.3,253.3L441.2,253.6ZM441.2,253.6L441.4,252.8L444.0,253.9L448.0,251.1L449.2,254.2L448.9,254.6L444.6,255.9L447.1,258.6L446.4,259.0L446.1,259.9L444.5,260.2L444.0,261.2L443.1,262.0L440.6,261.6L440.5,261.2L441.2,257.0L441.1,256.0L441.3,255.2L441.2,253.6ZM449.2,254.2L448.0,251.1L452.5,248.3L452.8,245.2L452.3,243.3L453.4,242.6L454.3,241.0L455.1,240.6L457.7,240.9L458.6,241.6L459.5,241.2L461.4,244.3L463.0,245.1L463.4,246.6L462.4,247.5L462.2,249.5L464.1,252.0L467.0,253.4L468.4,255.4L468.3,257.3L469.0,257.3L469.2,258.7L470.6,260.1L469.3,259.9L467.8,259.7L466.5,262.2L462.3,262.0L455.5,256.8L452.0,255.0L449.2,254.2ZM470.6,260.1L469.2,258.7L469.0,257.3L468.3,257.3L468.4,255.4L467.0,253.4L464.1,252.0L462.2,249.5L462.4,247.5L463.4,246.6L463.0,245.1L461.4,244.3L459.5,241.2L458.0,239.1L458.3,238.3L457.1,235.3L458.4,234.6L458.9,235.5L460.2,236.8L461.8,237.1L462.5,237.0L464.7,235.1L465.4,234.9L466.2,235.7L465.7,237.0L467.3,238.3L467.8,238.2L468.9,240.1L471.0,240.7L472.7,242.0L475.9,242.4L479.1,241.7L479.2,241.1L481.0,240.6L482.2,239.1L483.7,239.2L484.5,238.7L486.1,238.9L488.8,240.3L490.5,240.6L493.5,242.9L495.1,243.0L495.8,245.1L495.6,248.4L495.4,250.3L496.4,250.7L495.7,252.1L496.8,254.2L497.3,255.8L499.1,256.3L499.5,258.0L497.9,260.3L499.2,261.7L500.4,263.3L502.7,264.4L503.1,266.7L504.2,267.1L504.6,268.3L501.5,269.7L501.1,272.7L496.7,271.9L494.2,271.3L491.7,271.0L490.3,267.8L489.2,267.4L487.5,267.8L485.4,269.1L482.6,268.2L480.1,266.2L477.9,265.4L476.1,263.0L474.0,259.5L472.9,259.9L471.3,259.1L470.6,260.1ZM469.3,259.9L469.9,261.1L469.8,261.7L470.8,263.7L469.2,263.7L468.5,262.5L466.5,262.2L467.8,259.7L469.3,259.9ZM460.6,295.5L460.2,294.4L459.5,293.6L459.2,292.6L458.0,291.7L456.7,289.5L455.9,287.3L454.2,285.5L453.2,285.1L451.5,282.6L451.2,280.8L451.2,279.3L449.7,276.4L448.6,275.3L447.3,274.8L446.5,273.3L446.6,272.7L445.8,271.4L445.1,270.8L444.1,268.8L442.6,266.7L441.3,265.0L440.2,265.0L440.4,263.5L440.4,262.6L440.6,261.6L443.1,262.0L444.0,261.2L444.5,260.2L446.1,259.9L446.4,259.0L447.1,258.6L444.6,255.9L448.9,254.6L449.2,254.2L452.0,255.0L455.5,256.8L462.3,262.0L466.5,262.2L468.5,262.5L469.2,263.7L470.8,263.7L471.9,265.9L473.0,266.5L473.5,267.4L475.2,268.5L475.4,269.6L475.3,270.5L475.7,271.3L476.4,272.1L476.8,272.9L477.2,273.6L477.9,274.1L478.5,273.9L479.0,274.9L479.2,275.5L480.3,278.2L487.1,279.5L487.5,278.9L488.7,280.8L487.7,286.0L481.1,288.6L474.6,289.6L472.6,290.8L471.1,293.5L470.1,294.0L469.5,293.1L468.6,293.2L466.4,293.0L466.0,292.7L463.3,292.8L462.7,293.0L461.7,292.3L461.2,293.6L461.5,294.7L460.6,295.5ZM484.1,294.7L482.5,295.4L482.1,296.6L482.1,297.5L479.9,298.6L476.3,299.8L474.4,301.7L473.4,301.8L472.7,301.6L471.4,302.7L470.0,303.2L468.1,303.4L467.5,303.5L467.0,304.2L466.4,304.4L466.1,305.0L464.9,305.0L464.2,305.3L462.6,305.2L462.0,303.7L462.0,302.3L461.6,301.5L461.0,299.6L460.3,298.5L460.8,298.4L460.5,297.2L460.7,296.7L460.6,295.5L461.5,294.7L461.2,293.6L461.7,292.3L462.7,293.0L463.3,292.8L466.0,292.7L466.4,293.0L468.6,293.2L469.5,293.1L470.1,294.0L471.1,293.5L472.6,290.8L474.6,289.6L481.1,288.6L483.2,292.9L484.1,294.7ZM496.2,283.1L495.5,284.9L494.4,284.7L494.0,285.4L493.8,286.7L494.2,288.4L494.0,288.8L493.0,288.7L491.6,289.7L491.5,291.0L491.0,291.5L489.6,291.5L488.8,292.2L488.9,293.2L487.8,294.0L486.6,293.7L485.1,294.6L484.1,294.7L483.2,292.9L481.1,288.6L487.7,286.0L488.7,280.8L487.5,278.9L487.5,277.9L488.1,276.8L488.0,275.7L488.9,275.2L488.5,274.8L488.5,273.1L489.7,273.1L490.9,274.9L492.2,275.9L493.9,276.2L495.3,276.7L496.4,278.2L497.1,279.0L498.0,279.4L498.0,280.0L497.3,281.5L497.0,282.3L496.2,283.1ZM489.1,271.1L488.6,270.2L489.1,269.3L489.4,269.5L489.4,270.6L489.1,271.1ZM479.0,274.9L479.4,274.8L479.5,275.5L481.3,275.1L483.1,275.2L484.5,275.2L485.9,273.5L487.4,271.8L488.6,270.2L489.1,271.1L489.7,273.1L488.5,273.1L488.5,274.8L488.9,275.2L488.0,275.7L488.1,276.8L487.5,277.9L487.5,278.9L487.1,279.5L480.3,278.2L479.2,275.5L479.0,274.9ZM477.2,273.6L476.8,271.7L477.3,270.3L477.9,270.0L478.6,270.9L478.8,272.4L478.5,273.9L477.9,274.1L477.2,273.6ZM512.1,228.0L511.0,228.4L508.8,230.3L508.4,232.1L507.7,232.1L506.7,230.9L504.0,230.8L503.0,228.7L501.9,228.7L501.3,226.1L498.2,224.2L494.7,224.4L492.4,224.8L489.7,222.4L487.8,221.5L484.0,219.6L483.6,219.4L478.7,220.9L481.2,230.4L480.2,230.6L478.2,228.5L476.6,227.8L474.3,228.3L473.6,229.2L473.4,228.6L473.6,227.5L473.0,226.6L470.4,225.7L468.9,223.4L467.6,222.8L467.3,221.9L469.4,222.2L469.0,220.3L470.6,219.9L472.5,220.3L472.3,217.8L471.5,216.2L469.5,216.3L467.6,215.7L465.5,216.8L463.7,217.3L462.6,216.9L462.4,215.6L460.8,213.9L459.3,214.0L457.1,212.3L457.8,210.3L457.1,209.8L458.0,207.1L460.4,208.5L460.1,206.7L463.5,203.9L466.5,203.9L471.4,205.6L474.1,206.6L475.9,205.6L479.0,205.5L482.0,206.8L482.3,206.1L485.2,206.2L485.2,205.0L481.4,203.3L482.8,202.0L482.2,201.4L483.9,200.7L481.8,199.0L482.4,198.2L489.3,197.3L490.0,196.7L494.4,195.8L495.7,194.7L499.4,195.3L501.1,197.9L502.9,197.2L505.8,198.1L506.2,199.4L508.0,199.3L511.8,197.0L511.4,197.7L514.9,199.7L522.3,206.0L522.7,204.7L526.2,206.1L528.7,205.5L530.0,205.9L531.7,207.4L533.3,207.9L534.7,209.0L537.1,208.6L538.9,210.2L538.1,211.9L536.6,212.1L537.6,214.7L536.9,215.8L532.6,215.0L533.0,219.5L532.1,220.1L528.4,221.1L532.0,225.6L530.8,226.3L531.5,227.7L530.1,227.4L528.7,226.4L525.5,226.2L522.0,226.1L521.4,226.4L518.0,225.3L517.0,225.8L517.2,227.4L513.4,226.5L512.2,226.8L512.1,228.0ZM506.2,240.7L505.9,239.1L502.8,238.0L500.2,236.7L498.5,235.5L495.6,233.7L493.9,231.0L493.0,230.5L490.8,230.7L489.8,230.1L489.1,228.1L485.9,226.7L484.5,228.2L482.9,229.1L483.6,230.4L481.2,230.4L478.7,220.9L483.6,219.4L484.0,219.6L487.8,221.5L489.7,222.4L492.4,224.8L494.7,224.4L498.2,224.2L501.3,226.1L501.9,228.7L503.0,228.7L504.0,230.8L506.7,230.9L507.7,232.1L508.4,232.1L508.8,230.3L511.0,228.4L512.1,228.0L512.8,228.2L511.6,229.9L513.4,230.9L514.7,230.2L517.7,231.6L515.5,233.4L513.8,233.2L513.0,233.3L512.5,232.5L512.5,231.3L509.9,231.9L509.7,233.6L509.1,235.0L507.3,234.9L507.0,236.1L508.8,236.7L509.7,238.6L509.2,241.3L507.5,240.7L506.2,240.7ZM495.8,245.1L495.1,243.0L493.5,242.9L490.5,240.6L488.8,240.3L486.1,238.9L484.5,238.7L483.7,239.2L482.2,239.1L481.0,240.6L479.2,241.1L478.5,239.3L478.2,236.6L476.3,235.7L476.5,233.9L475.1,233.8L475.1,231.5L477.2,232.2L478.9,231.4L476.9,229.8L476.0,228.3L474.5,229.0L474.7,230.9L473.6,229.2L474.3,228.3L476.6,227.8L478.2,228.5L480.2,230.6L481.2,230.4L483.6,230.4L482.9,229.1L484.5,228.2L485.9,226.7L489.1,228.1L489.8,230.1L490.8,230.7L493.0,230.5L493.9,231.0L495.6,233.7L498.5,235.5L500.2,236.7L502.8,238.0L505.9,239.1L506.2,240.7L505.6,240.6L504.4,239.9L504.3,240.8L502.6,241.3L502.6,243.4L501.6,244.2L500.0,244.6L499.8,245.8L498.2,246.1L495.8,245.1ZM512.1,228.0L512.2,226.8L513.4,226.5L517.2,227.4L517.0,225.8L518.0,225.3L521.4,226.4L522.0,226.1L525.5,226.2L528.7,226.4L530.1,227.4L531.5,227.7L531.5,228.3L528.6,229.7L528.2,230.7L525.6,231.1L525.4,232.7L523.0,232.4L521.7,232.9L520.1,234.1L520.5,234.7L520.1,235.3L516.2,235.7L513.3,234.9L511.1,235.0L510.8,233.6L513.3,234.0L513.8,233.2L515.5,233.4L517.7,231.6L514.7,230.2L513.4,230.9L511.6,229.9L512.8,228.2L512.1,228.0ZM513.8,233.2L513.3,234.0L510.8,233.6L511.1,235.0L513.3,234.9L516.2,235.7L520.1,235.3L521.4,237.7L522.0,237.4L523.4,238.0L523.7,239.0L524.4,240.5L522.2,240.5L520.7,240.3L519.6,241.5L518.7,241.8L518.1,242.3L517.1,241.4L516.7,239.3L516.0,239.2L516.0,238.3L514.7,237.7L514.0,238.7L514.1,239.7L513.8,240.1L512.5,240.0L512.2,241.2L511.3,240.7L510.0,241.6L509.2,241.3L509.7,238.6L508.8,236.7L507.0,236.1L507.3,234.9L509.1,235.0L509.7,233.6L509.9,231.9L512.5,231.3L512.5,232.5L513.0,233.3L513.8,233.2ZM495.8,245.1L498.2,246.1L499.8,245.8L500.0,244.6L501.6,244.2L502.6,243.4L502.6,241.3L504.3,240.8L504.4,239.9L505.6,240.6L506.2,240.7L507.5,240.7L509.2,241.3L510.0,241.6L511.3,240.7L512.2,241.2L512.5,240.0L513.8,240.1L514.1,239.7L514.0,238.7L514.7,237.7L516.0,238.3L516.0,239.2L516.7,239.3L517.1,241.4L518.1,242.3L518.7,241.8L519.6,241.5L520.7,240.3L522.2,240.5L524.4,240.5L525.0,241.3L523.8,241.6L522.9,242.0L520.5,242.4L518.3,242.9L517.3,244.0L518.1,245.1L518.7,246.4L517.9,247.5L518.2,248.5L517.8,249.5L515.7,249.4L516.9,251.1L515.7,251.8L515.1,253.4L515.6,254.9L514.9,255.7L514.0,255.4L512.4,255.8L512.3,256.5L510.6,256.5L509.7,258.0L510.0,260.2L507.3,261.3L505.7,261.0L505.4,261.6L504.0,261.3L501.9,261.7L497.9,260.3L499.5,258.0L499.1,256.3L497.3,255.8L496.8,254.2L495.7,252.1L496.4,250.7L495.4,250.3L495.6,248.4L495.8,245.1ZM525.0,241.3L526.9,242.5L528.1,244.5L532.0,245.6L530.4,247.7L528.1,248.1L524.6,247.5L523.9,248.6L525.2,250.9L526.4,252.7L528.4,254.0L526.9,255.5L527.3,257.3L525.7,259.9L524.8,262.6L523.0,265.3L520.4,265.1L518.3,267.9L520.0,269.1L520.5,271.1L522.0,272.4L522.7,274.6L517.8,274.6L516.5,276.4L514.8,275.7L513.9,273.8L511.9,271.8L507.8,272.3L504.2,272.4L501.1,272.7L501.5,269.7L504.6,268.3L504.2,267.1L503.1,266.7L502.7,264.4L500.4,263.3L499.2,261.7L497.9,260.3L501.9,261.7L504.0,261.3L505.4,261.6L505.7,261.0L507.3,261.3L510.0,260.2L509.7,258.0L510.6,256.5L512.3,256.5L512.4,255.8L514.0,255.4L514.9,255.7L515.6,254.9L515.1,253.4L515.7,251.8L516.9,251.1L515.7,249.4L517.8,249.5L518.2,248.5L517.9,247.5L518.7,246.4L518.1,245.1L517.3,244.0L518.3,242.9L520.5,242.4L522.9,242.0L523.8,241.6L525.0,241.3ZM532.0,245.6L535.1,248.6L535.4,250.7L536.6,252.1L536.9,253.4L535.2,253.0L536.5,255.9L539.1,257.6L542.5,259.4L541.4,260.6L541.0,263.0L543.4,264.0L545.7,265.3L548.9,266.8L552.1,267.1L553.6,268.4L555.3,268.7L558.2,269.3L560.0,269.3L560.1,268.2L559.4,266.5L559.4,265.4L560.6,264.9L561.2,266.9L561.4,267.5L563.6,268.5L564.9,268.0L566.9,268.2L568.7,268.1L568.5,266.5L567.4,265.7L569.1,265.4L570.7,263.4L572.9,261.8L574.9,262.4L576.2,261.3L577.7,262.9L577.2,264.0L579.7,264.4L580.1,265.4L579.4,265.9L579.9,267.5L578.2,267.0L575.7,268.8L576.1,270.3L575.3,272.5L575.4,273.8L574.8,275.9L572.9,275.3L573.3,278.1L572.9,278.9L573.3,280.0L572.2,280.7L570.5,276.5L569.8,276.5L569.7,278.2L568.3,276.9L568.7,275.4L569.7,275.2L570.4,273.0L569.0,272.5L566.9,272.6L564.7,272.2L564.2,270.4L563.1,270.3L561.1,269.2L560.7,270.9L562.5,272.3L561.3,273.3L560.9,274.2L562.4,275.0L562.3,276.5L563.4,278.5L564.0,280.6L563.8,281.6L562.3,281.6L559.6,282.1L560.0,284.1L559.0,285.6L555.9,287.4L553.8,290.4L552.3,292.1L550.2,293.8L550.3,295.0L549.2,295.6L547.3,296.6L546.2,296.7L545.8,298.7L546.5,302.1L546.8,304.2L546.0,306.7L546.3,311.2L545.2,311.3L544.2,313.3L545.0,314.1L542.9,314.9L542.2,316.7L541.4,317.4L539.1,315.0L537.8,311.3L536.8,308.7L535.9,307.5L534.5,304.9L533.7,301.7L533.1,300.0L530.7,296.5L529.3,291.4L528.2,288.1L527.9,284.9L527.2,282.4L524.1,284.0L522.5,283.7L519.2,280.5L520.2,279.6L519.4,278.6L516.5,276.4L517.8,274.6L522.7,274.6L522.0,272.4L520.5,271.1L520.0,269.1L518.3,267.9L520.4,265.1L523.0,265.3L524.8,262.6L525.7,259.9L527.3,257.3L526.9,255.5L528.4,254.0L526.4,252.7L525.2,250.9L523.9,248.6L524.6,247.5L528.1,248.1L530.4,247.7L532.0,245.6ZM559.4,265.4L559.4,266.5L560.1,268.2L560.0,269.3L558.2,269.3L555.3,268.7L553.6,268.4L552.1,267.1L548.9,266.8L545.7,265.3L543.4,264.0L541.0,263.0L541.4,260.6L542.5,259.4L543.3,258.8L545.3,259.6L547.9,261.3L549.2,261.7L550.2,262.9L552.1,263.4L554.1,264.6L556.7,265.2L559.4,265.4ZM567.4,265.7L568.5,266.5L568.7,268.1L566.9,268.2L564.9,268.0L563.6,268.5L561.4,267.5L561.2,266.9L562.3,265.0L563.4,264.3L565.1,265.0L566.3,265.0L567.4,265.7ZM572.2,280.7L572.5,282.5L571.6,282.1L572.1,284.2L571.2,282.9L570.9,281.6L570.3,280.3L569.1,278.8L567.1,278.7L567.4,279.8L566.9,281.2L565.9,280.7L565.6,281.1L564.9,280.9L564.0,280.6L563.4,278.5L562.3,276.5L562.4,275.0L560.9,274.2L561.3,273.3L562.5,272.3L560.7,270.9L561.1,269.2L563.1,270.3L564.2,270.4L564.7,272.2L566.9,272.6L569.0,272.5L570.4,273.0L569.7,275.2L568.7,275.4L568.3,276.9L569.7,278.2L569.8,276.5L570.5,276.5L572.2,280.7ZM551.2,318.6L550.9,321.3L550.0,322.0L548.0,322.6L546.8,320.6L546.3,316.8L547.1,312.6L548.8,314.0L549.9,315.9L551.2,318.6ZM588.5,285.5L587.3,286.6L585.7,286.7L585.1,289.6L584.2,290.0L585.6,292.3L587.3,294.2L588.5,296.0L588.0,298.2L587.2,298.7L587.9,300.0L589.7,302.1L590.1,303.6L590.2,304.8L591.3,307.2L590.2,309.6L589.3,312.3L589.0,310.3L589.5,308.3L588.6,306.8L588.5,304.0L587.4,302.6L586.4,299.5L585.6,296.2L584.3,294.0L583.0,295.3L580.6,297.2L579.3,297.0L577.8,296.3L578.2,293.1L577.4,290.7L575.2,287.6L575.3,286.7L574.0,286.4L572.1,284.2L571.6,282.1L572.5,282.5L572.2,280.7L573.3,280.0L572.9,278.9L573.3,278.1L572.9,275.3L574.8,275.9L575.4,273.8L575.3,272.5L576.1,270.3L575.7,268.8L578.2,267.0L579.9,267.5L579.4,265.9L580.1,265.4L579.7,264.4L580.9,264.2L582.0,265.8L583.1,266.4L583.6,268.4L584.0,270.5L582.3,272.7L582.6,275.8L584.9,275.4L585.9,277.8L587.4,278.3L587.0,280.5L588.9,281.5L589.9,281.9L591.5,281.2L591.7,282.2L590.0,283.9L589.7,284.9L588.5,285.5ZM598.1,306.4L595.9,305.2L593.9,305.2L594.1,303.2L592.1,303.2L592.2,306.1L591.3,309.9L590.7,312.2L591.0,314.1L592.5,314.2L593.6,316.5L594.1,318.8L595.5,320.3L596.9,320.6L598.2,322.0L597.4,323.0L595.9,323.3L595.7,322.0L593.8,320.9L593.4,321.3L592.4,320.3L592.0,319.0L590.7,317.6L589.5,316.3L589.2,317.9L588.7,316.4L588.8,314.8L589.3,312.3L590.2,309.6L591.3,307.2L590.2,304.8L590.1,303.6L589.7,302.1L587.9,300.0L587.2,298.7L588.0,298.2L588.5,296.0L587.3,294.2L585.6,292.3L584.2,290.0L585.1,289.6L585.7,286.7L587.3,286.6L588.5,285.5L589.7,284.9L590.8,285.7L591.2,287.3L592.7,287.4L592.6,290.1L592.9,292.5L595.1,290.9L595.9,291.4L597.2,291.3L597.5,290.4L599.3,290.6L601.3,292.7L601.8,295.3L604.0,297.6L604.1,299.8L603.5,301.0L601.3,300.6L598.4,301.1L597.2,303.2L598.1,306.4ZM603.5,301.0L604.1,299.8L604.0,297.6L601.8,295.3L601.3,292.7L599.3,290.6L597.5,290.4L597.2,291.3L595.9,291.4L595.1,290.9L592.9,292.5L592.6,290.1L592.7,287.4L591.2,287.3L590.8,285.7L589.7,284.9L590.0,283.9L591.7,282.2L592.0,282.9L593.2,282.9L592.4,279.9L593.5,279.6L595.1,281.6L596.5,284.0L599.3,284.0L600.5,286.3L599.2,287.0L598.7,287.9L601.7,289.5L604.0,292.5L605.8,294.9L607.8,296.7L608.6,298.5L608.5,301.1L606.4,300.2L605.5,302.0L603.5,301.0ZM600.5,310.5L599.5,309.1L598.1,306.4L597.2,303.2L598.4,301.1L601.3,300.6L603.5,301.0L605.5,302.0L606.4,300.2L608.5,301.1L609.2,302.9L609.3,306.0L605.6,308.0L606.8,309.6L604.4,309.8L602.5,310.8L600.5,310.5ZM607.2,281.9L604.5,284.2L603.0,286.6L602.8,288.4L605.0,291.2L607.6,294.6L609.9,296.2L611.6,298.3L613.2,303.1L613.4,307.7L611.6,309.5L609.1,311.2L607.4,313.3L604.7,315.8L603.8,314.1L604.3,312.3L602.5,310.8L604.4,309.8L606.8,309.6L605.6,308.0L609.3,306.0L609.2,302.9L608.5,301.1L608.6,298.5L607.8,296.7L605.8,294.9L604.0,292.5L601.7,289.5L598.7,287.9L599.2,287.0L600.5,286.3L599.3,284.0L596.5,284.0L595.1,281.6L593.5,279.6L594.6,278.9L596.4,278.9L598.6,278.6L600.2,277.2L601.5,278.2L603.6,278.7L603.5,280.2L604.8,281.3L607.2,281.9ZM595.7,322.0L595.9,323.3L597.4,323.0L598.2,322.0L598.7,322.2L600.1,323.8L601.2,325.5L601.4,327.3L601.2,328.5L601.4,329.4L601.6,330.9L602.5,331.6L603.4,333.9L603.4,334.8L601.8,335.0L599.6,333.1L596.8,331.0L596.5,329.7L595.1,327.9L594.7,325.7L593.8,324.3L594.0,322.4L593.4,321.3L593.8,320.9L595.7,322.0ZM636.3,326.5L634.6,327.4L632.6,326.9L630.0,326.9L629.3,329.9L628.4,330.8L627.4,334.5L625.5,335.0L623.3,334.3L622.2,334.5L620.9,335.9L619.4,335.6L617.9,336.2L616.3,334.7L615.9,333.0L617.6,333.9L619.4,333.4L619.8,331.2L620.8,330.7L623.5,330.1L625.1,328.0L626.1,326.4L627.2,327.7L627.7,326.8L628.8,326.9L628.9,325.2L628.9,324.0L630.6,322.2L631.6,320.1L632.5,320.1L633.8,321.4L634.0,322.6L635.5,323.3L637.5,324.1L637.4,325.1L635.8,325.2L636.3,326.5ZM626.1,326.4L627.0,325.4L628.9,324.0L628.9,325.2L628.8,326.9L627.7,326.8L627.2,327.7L626.1,326.4ZM582.5,323.9L587.5,324.5L589.7,327.1L591.5,328.8L592.8,329.9L595.1,332.7L597.4,332.8L599.4,334.5L600.8,336.7L602.5,337.9L601.6,340.1L602.9,341.0L603.7,341.0L604.1,342.8L604.9,344.3L606.6,344.5L607.6,346.2L606.9,349.5L606.7,353.5L604.1,353.5L602.3,351.4L599.4,349.2L598.5,347.6L596.8,345.5L595.7,343.6L594.0,339.9L592.0,337.7L591.3,335.5L590.4,333.4L588.3,331.8L587.0,329.6L585.2,328.1L582.7,325.2L582.5,323.9ZM612.7,355.0L613.0,355.9L617.4,356.2L618.0,355.1L622.1,356.3L622.9,358.0L626.3,358.5L629.0,360.0L626.3,361.0L623.9,360.0L621.8,360.1L619.4,359.9L617.3,359.4L614.7,358.4L613.0,358.1L612.1,358.5L607.9,357.4L607.6,356.3L605.5,356.1L607.2,353.6L610.0,353.7L611.8,354.8L612.7,355.0ZM634.6,327.4L633.4,329.8L635.2,332.2L634.9,333.4L637.5,335.9L634.7,336.2L634.0,337.9L634.1,340.3L631.8,342.1L631.7,344.7L630.7,348.7L630.4,347.8L627.7,348.9L626.9,347.3L625.2,347.2L624.1,346.3L621.3,347.3L620.5,346.0L619.0,346.2L617.1,345.8L616.9,342.4L615.7,341.6L614.6,339.4L614.3,337.1L614.6,334.7L615.9,333.0L616.3,334.7L617.9,336.2L619.4,335.6L620.9,335.9L622.2,334.5L623.3,334.3L625.5,335.0L627.4,334.5L628.4,330.8L629.3,329.9L630.0,326.9L632.6,326.9L634.6,327.4ZM651.8,334.5L650.0,337.1L648.3,337.6L646.1,337.1L642.2,337.2L640.2,337.6L639.9,339.6L641.9,341.9L643.2,340.7L647.5,339.8L647.3,341.0L646.3,340.6L645.3,342.2L643.2,343.2L645.3,346.5L644.8,347.4L646.8,350.4L646.6,352.1L645.4,352.9L644.5,352.0L645.8,349.8L643.4,350.9L642.9,350.1L643.2,349.1L641.7,347.6L641.9,345.1L640.4,345.8L640.4,348.9L640.3,352.6L638.9,353.0L637.9,352.2L638.7,349.8L638.4,347.3L637.5,347.3L636.8,345.5L637.8,343.8L638.2,341.7L639.4,337.8L639.9,336.7L641.8,334.8L643.6,335.6L646.5,335.9L649.2,335.8L651.4,333.9L651.8,334.5ZM688.1,345.0L687.0,362.0L685.2,359.9L682.9,359.3L682.3,360.1L679.3,360.2L680.5,358.0L682.0,357.3L681.6,354.5L680.6,352.3L676.3,350.1L674.4,349.8L671.1,347.4L670.3,348.7L669.4,348.9L669.0,348.0L669.0,346.8L667.3,345.6L669.8,344.6L671.5,344.7L671.3,344.0L667.9,344.0L667.1,342.4L665.0,341.9L664.0,340.7L667.2,340.0L668.3,339.2L672.1,340.2L672.4,341.2L672.9,345.4L675.2,347.0L677.3,344.2L680.0,342.6L682.0,342.6L683.9,343.6L685.6,344.5L688.1,345.0ZM650.2,361.4L650.4,361.9L650.4,362.7L648.7,364.7L646.7,365.2L646.4,364.9L646.7,364.0L647.8,362.5L650.2,361.4ZM650.2,361.4L650.5,360.8L652.5,360.2L654.1,360.1L654.9,359.8L655.7,360.1L654.8,360.8L652.4,362.0L650.4,362.7L650.4,361.9L650.2,361.4ZM640.1,364.9L639.2,365.0L636.3,363.2L638.4,362.6L639.6,363.4L640.3,364.2L640.1,364.9ZM641.9,360.5L643.5,360.3L645.6,359.3L645.2,360.8L641.6,361.5L638.6,361.2L638.7,360.2L640.6,359.7L641.9,360.5ZM634.9,360.0L636.3,359.8L636.8,360.9L634.1,361.5L632.5,361.8L631.3,361.8L632.2,360.3L633.4,360.3L634.1,359.3L634.9,360.0ZM659.8,335.3L659.7,337.5L658.5,337.3L658.2,338.9L659.1,340.2L658.5,340.5L657.6,338.9L656.8,335.6L657.3,333.5L658.0,332.5L658.2,333.9L659.6,334.2L659.8,335.3ZM663.8,346.3L664.5,348.3L662.6,347.2L660.7,347.0L659.4,347.2L657.8,347.0L658.4,345.6L661.3,345.5L663.8,346.3ZM655.8,346.4L656.3,347.2L655.4,348.1L653.8,347.6L653.4,346.5L655.8,346.4ZM638.6,289.9L640.1,290.6L640.7,290.0L641.0,290.6L640.8,291.7L641.9,293.6L641.7,295.8L640.5,296.6L640.4,298.7L641.2,300.8L642.5,301.1L643.4,300.8L646.5,302.2L646.5,303.6L647.3,304.3L647.2,305.5L645.3,304.2L644.2,302.8L643.8,303.8L642.1,302.2L640.1,302.6L638.9,302.0L638.9,301.0L639.5,300.3L638.7,299.7L638.5,300.6L637.2,299.1L636.7,298.0L636.2,295.5L637.3,296.4L636.9,292.3L637.2,289.9L638.6,289.9ZM653.5,316.2L653.9,318.0L654.1,319.4L653.5,321.8L652.5,319.2L651.5,320.5L652.3,322.4L651.8,323.6L649.0,322.1L648.2,320.2L648.8,319.0L647.3,317.8L646.6,318.8L645.6,318.7L644.0,320.2L643.5,319.4L644.3,317.2L645.7,316.5L646.8,315.5L647.7,316.7L649.4,316.0L649.7,314.8L651.3,314.7L651.0,312.7L653.0,313.9L653.3,315.3L653.5,316.2ZM637.1,308.5L637.7,310.7L636.3,312.1L635.3,313.9L632.4,316.4L633.4,314.5L634.9,312.9L636.1,311.1L637.1,308.5ZM650.6,306.5L651.5,309.4L649.7,308.7L649.8,309.5L650.6,311.2L649.5,311.8L649.2,309.9L648.5,309.8L648.0,308.2L649.4,308.4L649.3,307.4L647.6,305.4L649.8,305.5L650.6,306.5ZM642.8,308.4L642.3,307.2L643.8,308.0L645.3,308.0L645.3,309.0L644.4,310.2L643.0,310.9L642.8,309.7L642.8,308.4ZM647.6,311.4L646.9,312.2L646.3,313.9L645.6,314.7L644.1,312.9L644.5,312.1L645.0,311.4L645.1,309.8L646.3,309.6L646.1,311.4L647.6,308.9L647.6,311.4ZM641.2,304.1L640.8,306.3L639.7,305.0L638.3,303.0L640.3,303.1L641.2,304.1ZM721.7,356.0L721.0,356.3L720.1,355.3L719.2,353.6L718.9,351.6L719.2,351.4L719.4,352.1L720.1,352.7L721.1,354.4L722.1,355.3L721.7,356.0ZM713.0,352.5L711.8,352.7L711.3,353.4L710.0,354.1L708.8,354.7L707.6,354.7L705.8,353.9L704.5,353.2L704.7,352.4L706.8,352.8L708.1,352.6L708.5,351.3L708.8,351.3L709.0,352.6L710.3,352.5L711.0,351.5L712.3,350.6L712.2,349.1L713.6,349.0L714.0,349.5L713.9,350.9L713.0,352.5ZM715.8,349.9L715.1,350.7L714.7,349.1L714.2,348.1L713.2,347.2L712.0,346.1L710.3,345.4L711.0,344.7L712.2,345.5L713.0,346.0L713.9,346.7L714.8,347.8L715.6,348.6L715.8,349.9ZM701.6,357.5L703.5,359.2L704.7,362.0L706.1,361.9L705.9,363.0L707.6,363.5L706.8,364.0L709.1,365.1L708.8,365.8L707.3,366.0L706.8,365.3L704.8,365.0L702.6,364.6L701.0,363.0L699.8,361.5L698.8,359.3L695.9,358.1L693.9,358.9L692.4,359.7L692.5,361.6L690.7,362.6L689.4,362.1L687.0,362.0L688.1,345.0L692.0,346.8L696.2,348.3L697.7,349.6L698.9,350.9L699.2,352.5L702.9,354.1L703.4,355.5L701.2,355.7L701.6,357.5ZM539.6,210.0L541.5,209.5L544.2,207.4L546.6,206.2L548.8,206.9L550.9,207.0L552.8,208.2L554.9,208.2L558.1,208.9L559.1,207.1L557.5,205.6L558.0,203.0L560.8,204.1L562.8,204.4L565.5,205.0L567.0,206.9L570.5,208.0L572.1,207.5L574.4,207.2L576.6,207.5L579.3,208.7L581.3,210.0L583.1,210.0L585.9,210.4L587.4,209.8L589.8,209.3L591.6,207.6L592.9,207.8L594.5,208.7L596.8,208.5L597.0,210.4L597.2,212.9L598.3,213.9L599.3,213.6L601.5,214.0L602.5,213.1L604.6,213.9L607.5,215.7L607.8,216.6L606.1,216.3L603.3,216.6L602.3,217.4L601.7,219.1L599.2,220.1L597.8,221.4L595.4,220.9L594.1,220.7L594.0,222.3L595.1,223.3L595.9,224.2L594.9,225.0L594.1,226.4L592.1,227.3L589.0,227.4L586.1,228.3L584.3,229.7L583.0,228.9L580.4,228.9L576.6,227.3L574.4,226.9L571.8,227.3L567.1,226.7L564.9,226.8L563.0,225.2L561.0,222.9L559.5,222.6L556.3,221.0L553.4,220.6L550.7,220.2L549.5,219.1L548.9,216.1L546.6,214.0L543.2,213.1L540.9,211.7L539.6,210.0ZM539.6,210.0L540.9,211.7L543.2,213.1L546.6,214.0L548.9,216.1L549.5,219.1L550.7,220.2L553.4,220.6L556.3,221.0L559.5,222.6L561.0,222.9L563.0,225.2L564.9,226.8L567.1,226.7L571.8,227.3L574.4,226.9L576.6,227.3L580.4,228.9L583.0,228.9L584.3,229.7L586.1,228.3L589.0,227.4L592.1,227.3L594.1,226.4L594.9,225.0L595.9,224.2L595.1,223.3L594.0,222.3L594.1,220.7L595.4,220.9L597.8,221.4L599.2,220.1L601.7,219.1L602.3,217.4L603.3,216.6L606.1,216.3L607.8,216.6L607.5,215.7L604.6,213.9L602.5,213.1L601.5,214.0L599.3,213.6L598.3,213.9L597.2,212.9L597.0,210.4L596.8,208.5L599.8,209.4L601.6,207.8L600.8,206.7L600.8,204.1L601.3,203.3L600.2,201.9L598.7,201.3L599.4,200.0L601.5,199.6L604.0,199.5L607.5,200.3L610.0,201.2L613.1,203.7L614.7,204.8L616.5,206.3L619.0,208.8L623.1,209.6L626.7,211.4L629.2,213.8L632.3,213.8L633.3,212.8L636.1,212.0L636.7,214.3L636.5,215.3L637.7,218.1L637.9,220.6L635.1,220.1L633.9,221.0L635.9,223.2L637.4,226.2L636.4,226.3L637.2,227.6L634.9,226.1L635.0,227.6L632.4,228.7L633.5,230.0L631.6,229.9L630.1,229.1L629.7,231.0L628.1,232.4L627.3,234.0L624.7,234.8L623.7,236.0L621.7,236.7L622.3,235.5L621.4,234.5L622.2,232.7L620.3,231.4L619.0,232.3L617.5,234.1L617.0,235.8L614.9,235.9L614.4,237.1L616.4,238.9L618.3,239.3L618.9,240.5L620.9,241.2L622.5,239.4L624.9,240.4L626.3,240.5L627.3,241.8L624.5,242.5L624.1,243.9L622.6,245.2L622.2,247.1L625.1,248.5L627.0,251.1L629.2,253.5L631.5,255.5L632.1,257.4L630.9,258.1L631.9,259.5L633.5,260.3L633.8,262.4L633.9,264.5L632.7,264.7L631.9,267.6L631.0,271.0L629.6,274.1L627.0,276.5L624.3,278.7L621.8,279.0L620.6,280.2L619.7,279.3L618.7,280.6L615.7,281.9L613.4,282.3L613.1,285.1L611.9,285.3L611.0,283.4L611.3,282.3L608.2,281.5L607.2,281.9L604.8,281.3L603.5,280.2L603.6,278.7L601.5,278.2L600.2,277.2L598.6,278.6L596.4,278.9L594.6,278.9L593.5,279.6L592.4,279.9L593.2,282.9L592.0,282.9L591.7,282.2L591.5,281.2L589.9,281.9L588.9,281.5L587.0,280.5L587.4,278.3L585.9,277.8L584.9,275.4L582.6,275.8L582.3,272.7L584.0,270.5L583.6,268.4L583.1,266.4L582.0,265.8L580.9,264.2L579.7,264.4L577.2,264.0L577.7,262.9L576.2,261.3L574.9,262.4L572.9,261.8L570.7,263.4L569.1,265.4L567.4,265.7L566.3,265.0L565.1,265.0L563.4,264.3L562.3,265.0L561.2,266.9L560.6,264.9L559.4,265.4L556.7,265.2L554.1,264.6L552.1,263.4L550.2,262.9L549.2,261.7L547.9,261.3L545.3,259.6L543.3,258.8L542.5,259.4L539.1,257.6L536.5,255.9L535.2,253.0L536.9,253.4L536.6,252.1L535.4,250.7L535.1,248.6L532.0,245.6L528.1,244.5L526.9,242.5L525.0,241.3L524.4,240.5L523.7,239.0L523.4,238.0L522.0,237.4L521.4,237.7L520.1,235.3L520.5,234.7L520.1,234.1L521.7,232.9L523.0,232.4L525.4,232.7L525.6,231.1L528.2,230.7L528.6,229.7L531.5,228.3L531.5,227.7L530.8,226.3L532.0,225.6L528.4,221.1L532.1,220.1L533.0,219.5L532.6,215.0L536.9,215.8L537.6,214.7L536.6,212.1L538.1,211.9L538.9,210.2L539.6,210.0ZM613.6,289.4L611.8,290.7L609.8,289.9L609.4,287.6L610.3,286.5L612.7,285.7L614.0,285.8L614.6,286.8L613.8,287.9L613.6,289.4ZM636.7,274.5L636.2,278.7L635.6,280.9L634.0,278.7L633.4,276.7L634.2,274.1L635.5,272.2L636.7,272.9L636.7,274.5ZM637.2,227.6L637.8,228.1L636.9,227.9L636.5,228.8L636.4,229.7L637.5,231.5L636.7,232.1L636.6,232.6L636.2,233.3L635.0,233.8L634.4,234.5L635.0,235.6L634.9,235.9L635.9,236.3L637.7,237.4L637.7,238.1L636.9,238.2L635.4,238.3L635.2,239.5L634.2,239.4L634.1,239.7L632.9,239.2L632.8,239.7L632.3,239.9L632.0,239.4L631.3,239.2L630.6,238.7L630.6,237.6L630.9,237.3L630.5,236.8L630.4,235.4L630.0,235.0L628.6,234.7L627.3,234.0L628.1,232.4L629.7,231.0L630.1,229.1L631.6,229.9L633.5,230.0L632.4,228.7L635.0,227.6L634.9,226.1L637.2,227.6ZM637.7,237.4L641.1,240.5L642.4,242.2L643.8,245.2L643.6,246.6L641.9,247.1L640.6,248.2L638.7,248.4L637.9,247.0L637.4,245.1L635.3,242.3L636.7,241.9L634.1,239.7L634.2,239.4L635.2,239.5L635.4,238.3L636.9,238.2L637.7,238.1L637.7,237.4ZM666.8,241.3L667.0,243.3L668.0,244.6L667.8,246.5L665.6,247.7L661.9,247.9L660.1,250.9L658.2,249.8L657.2,247.9L653.7,248.5L651.6,249.7L649.1,249.7L652.1,251.7L652.4,256.1L651.4,257.2L650.0,256.2L649.6,253.8L647.9,253.1L646.3,251.3L648.0,250.5L648.5,248.8L650.1,247.5L650.9,245.7L654.8,244.9L657.4,245.5L657.4,240.8L659.5,242.1L661.3,239.5L662.0,238.4L661.6,235.3L659.5,232.4L659.4,230.7L661.4,230.3L664.7,233.9L665.8,236.0L665.3,238.6L666.8,241.3ZM662.0,223.1L663.8,223.6L664.5,222.5L667.0,225.4L664.3,226.1L664.2,228.7L659.7,226.9L660.4,229.7L658.1,229.8L656.2,227.2L655.9,225.2L658.1,225.1L656.3,221.5L655.5,219.5L659.8,222.2L662.0,223.1ZM656.8,249.1L657.4,249.9L656.9,251.5L655.6,250.7L654.8,251.3L654.8,252.8L653.1,252.1L652.6,250.9L653.1,249.3L654.5,249.6L654.9,248.5L656.8,249.1ZM737.9,393.2L739.3,394.8L740.2,396.0L739.2,396.7L738.1,396.0L736.8,394.8L735.7,393.4L734.6,391.6L734.5,390.7L735.5,390.7L736.5,391.6L737.3,392.5L737.9,393.2ZM735.1,365.6L735.6,366.5L734.0,366.4L733.3,364.8L734.6,365.5L735.1,365.6ZM734.3,363.3L733.9,363.7L732.5,361.5L732.2,359.9L732.9,359.9L733.5,362.0L734.3,363.3ZM732.3,364.0L731.4,364.0L730.1,363.8L729.6,363.4L729.9,362.3L731.4,362.7L732.0,363.3L732.3,364.0ZM730.1,359.1L730.5,360.0L730.6,360.5L728.9,359.4L727.7,358.4L726.9,357.6L727.3,357.3L728.3,357.9L730.1,359.1ZM724.6,356.5L725.4,357.4L724.9,357.5L724.0,356.9L723.1,355.9L723.3,355.4L724.6,356.5ZM745.4,381.2L744.6,381.5L744.1,380.4L744.4,379.7L745.4,381.2ZM744.6,377.2L744.6,379.3L744.0,378.9L743.5,379.1L743.3,378.4L743.7,376.4L744.6,377.2ZM768.9,383.5L769.5,384.2L768.8,385.6L767.3,385.9L766.1,385.6L766.2,384.5L767.3,383.6L768.2,383.9L768.9,383.5ZM771.5,382.1L769.9,382.6L769.9,381.6L771.1,381.1L771.9,381.0L773.4,380.1L773.1,381.4L771.5,382.1ZM222.4,295.8L222.9,295.4L223.3,295.8L222.8,296.2L222.4,295.8ZM222.7,297.9L223.2,297.5L223.6,297.9L223.1,298.4L222.7,297.9ZM223.3,300.0L223.8,299.5L224.2,300.0L223.8,300.4L223.3,300.0ZM223.3,301.9L223.7,301.5L224.2,301.9L223.7,302.3L223.3,301.9ZM222.6,303.6L223.1,303.2L223.5,303.6L223.1,304.0L222.6,303.6ZM226.4,303.9L226.9,303.5L227.3,303.9L226.8,304.3L226.4,303.9ZM221.4,306.6L221.8,306.2L222.3,306.6L221.8,307.0L221.4,306.6ZM222.0,293.6L222.5,293.2L222.9,293.6L222.4,294.0L222.0,293.6ZM219.9,293.0L220.4,292.6L220.8,293.0L220.3,293.4L219.9,293.0ZM308.8,298.8L309.2,298.4L309.7,298.8L309.2,299.2L308.8,298.8ZM307.2,294.6L307.7,294.2L308.1,294.6L307.6,295.0L307.2,294.6ZM310.4,296.2L310.9,295.8L311.4,296.2L310.9,296.6L310.4,296.2ZM462.0,368.7L462.5,368.3L462.9,368.7L462.4,369.2L462.0,368.7ZM464.3,370.0L464.8,369.6L465.3,370.0L464.8,370.5L464.3,370.0ZM466.0,371.6L466.5,371.2L466.9,371.6L466.4,372.0L466.0,371.6ZM490.3,350.3L490.8,349.9L491.3,350.3L490.8,350.8L490.3,350.3ZM492.9,391.1L493.4,390.6L493.8,391.1L493.3,391.5L492.9,391.1ZM488.2,393.3L488.7,392.9L489.1,393.3L488.6,393.7L488.2,393.3ZM377.9,337.5L378.3,337.1L378.8,337.5L378.3,338.0L377.9,337.5ZM-31.6,373.7L-31.2,373.3L-30.7,373.7L-31.1,374.1L-31.6,373.7ZM-30.0,374.5L-29.6,374.1L-29.1,374.5L-29.4,374.9L-30.0,374.5ZM-33.4,393.4L-33.0,393.0L-32.5,393.4L-32.8,393.8L-33.4,393.4ZM531.9,327.2L532.4,326.8L532.9,327.2L532.4,327.7L531.9,327.2ZM745.3,384.4L745.9,384.0L746.2,384.4L745.7,384.8L745.3,384.4ZM746.4,389.1L747.0,388.7L747.3,389.1L746.8,389.5L746.4,389.1ZM747.5,339.5L747.9,339.1L748.4,339.5L747.9,339.9L747.5,339.5ZM695.3,298.5L695.7,298.1L696.2,298.5L695.8,298.9L695.3,298.5ZM693.7,303.1L694.1,302.7L694.6,303.1L694.2,303.5L693.7,303.1ZM672.0,318.6L672.5,318.2L673.0,318.6L672.5,319.0L672.0,318.6ZM726.6,320.2L727.0,319.8L727.5,320.2L727.1,320.6L726.6,320.2ZM-0.2,333.2L0.3,332.8L0.7,333.2L0.2,333.7L-0.2,333.2ZM325.8,264.3L326.3,263.9L326.7,264.3L326.3,264.7L325.8,264.3ZM327.9,265.1L328.4,264.7L328.8,265.1L328.3,265.5L327.9,265.1ZM331.5,264.1L332.0,263.6L332.4,264.1L331.9,264.5L331.5,264.1ZM307.9,239.5L308.4,239.1L308.8,239.5L308.3,240.0L307.9,239.5ZM325.4,252.7L325.8,252.3L326.3,252.7L325.8,253.1L325.4,252.7Z"/>
</g>
<g stroke="#333" stroke-width="0.4" stroke-opacity="0.7" stroke-linejoin="round">
<path fill="#66c2a4" d="M115.6,210.7L171.3,210.7L171.8,209.8L172.5,209.7L172.2,211.1L173.9,211.7L175.8,212.1L177.4,212.9L179.2,212.6L181.4,213.2L184.2,212.5L185.7,213.4L187.2,214.4L188.5,215.2L189.7,216.1L190.3,217.3L190.9,218.1L191.6,218.4L191.2,218.8L192.9,220.0L192.4,222.4L191.9,224.6L190.7,226.1L189.2,227.5L188.4,228.4L188.9,229.5L192.4,228.1L194.7,227.7L197.9,226.4L198.2,225.4L198.0,224.9L199.1,224.4L203.1,224.4L204.1,223.4L207.3,221.4L208.4,220.9L215.3,220.9L215.8,220.3L217.5,219.7L218.6,218.6L219.9,216.6L222.2,214.7L222.6,215.3L224.1,214.9L224.8,215.6L223.6,219.1L224.5,220.6L224.6,221.4L222.0,222.6L219.5,223.5L217.1,224.3L215.5,225.8L214.9,226.4L214.4,227.8L214.7,229.2L215.6,229.2L215.6,228.3L216.1,228.9L215.7,229.6L214.1,230.0L213.1,230.0L211.4,230.4L209.2,230.7L207.2,231.4L210.5,230.9L210.9,231.4L207.7,232.2L206.4,232.2L205.7,232.6L206.3,232.7L205.2,234.6L203.1,236.6L202.7,235.8L202.2,235.1L202.2,236.5L202.6,237.0L202.3,238.0L201.4,239.0L199.6,241.1L199.4,240.9L200.6,239.2L199.8,238.2L200.2,236.0L199.4,237.1L199.4,238.8L198.1,238.4L199.3,239.2L198.7,241.7L199.3,241.9L199.2,242.8L198.9,245.4L197.0,247.3L194.5,248.1L192.7,249.6L191.6,249.8L190.2,250.8L189.7,251.6L186.9,253.3L185.3,254.6L183.9,256.1L183.1,258.0L183.1,259.8L183.4,262.0L184.0,263.9L183.8,265.0L184.3,268.0L183.9,269.8L183.7,270.8L182.8,272.4L182.1,272.7L181.1,272.4L180.9,271.3L180.1,270.7L179.4,268.4L178.7,266.4L178.5,265.4L179.3,263.7L179.0,262.2L177.8,260.0L177.0,259.7L174.5,260.8L174.1,260.7L173.3,259.5L172.1,258.8L169.5,259.2L167.6,258.9L165.9,259.1L164.9,259.5L165.1,260.2L164.8,261.2L165.2,261.7L164.7,262.1L163.9,261.7L163.0,262.2L161.4,262.1L160.1,260.7L158.1,261.1L156.6,260.5L155.2,260.6L153.2,261.2L150.7,263.2L148.2,264.3L146.7,265.6L145.9,266.7L145.5,268.5L145.4,269.8L145.6,270.7L144.7,270.7L143.2,270.2L141.7,269.4L141.3,268.1L141.2,266.3L140.2,264.8L139.8,263.3L139.2,261.5L137.9,260.5L136.1,260.5L134.1,262.6L132.5,261.8L131.6,261.0L131.4,259.6L131.1,258.2L130.1,257.1L129.2,256.2L128.7,255.3L124.9,255.3L124.6,256.4L118.4,256.4L111.1,253.3L111.5,252.8L106.1,253.3L106.2,251.9L105.3,250.4L104.4,250.1L104.5,249.4L103.3,249.2L102.8,248.5L100.9,248.3L100.5,247.9L100.8,246.4L99.8,243.8L99.6,240.2L100.0,239.6L99.4,238.7L98.8,236.6L99.6,234.4L99.2,233.0L100.8,230.9L101.9,228.7L102.4,226.7L104.6,224.2L107.9,219.6L109.6,216.2L110.3,214.0L110.5,212.8L111.0,212.3L113.4,213.2L113.0,215.5L113.9,214.9L114.9,212.8L115.6,210.7Z"/>
<path fill="#66c2a4" d="M128.6,161.3L125.6,160.3L122.0,160.4L119.1,160.2L114.6,159.7L113.4,158.8L109.5,159.1L109.7,158.1L107.9,157.7L103.7,158.9L97.9,159.7L95.9,159.9L92.7,160.9L90.7,162.0L87.1,163.0L84.1,163.1L81.4,164.2L82.7,165.0L83.1,165.9L82.7,167.0L83.7,167.9L83.2,169.3L81.2,168.2L79.4,169.4L79.5,168.4L74.4,169.8L70.7,170.3L70.1,172.5L72.5,173.1L75.3,172.8L76.0,173.4L79.7,172.3L80.8,172.3L78.8,173.6L75.6,175.4L74.5,175.2L71.7,176.3L69.3,176.1L65.9,177.6L61.6,180.0L60.1,182.3L60.7,182.9L60.9,184.0L63.8,183.6L64.0,184.4L62.6,185.3L61.1,186.7L65.2,185.8L67.9,186.5L71.0,186.1L66.1,189.4L63.8,190.3L62.8,190.8L58.6,192.2L56.6,193.2L53.9,193.5L50.4,194.8L47.7,195.6L44.4,196.8L44.2,197.2L48.3,196.5L50.8,195.7L53.6,194.8L56.1,194.1L57.3,194.3L60.6,193.3L62.4,192.1L66.7,190.8L68.4,189.8L71.1,189.0L74.2,188.0L77.8,186.3L77.7,185.1L82.3,183.4L85.3,181.8L89.1,180.5L88.9,181.1L86.2,181.8L82.8,184.2L81.5,185.6L84.1,185.1L86.6,184.3L90.6,183.6L91.1,182.1L94.5,181.5L95.5,182.5L97.9,183.6L100.8,183.4L103.2,183.8L104.4,184.7L105.8,187.2L107.3,187.9L110.2,187.9L111.9,188.1L110.8,190.4L111.4,192.3L110.1,194.5L111.3,196.2L114.7,193.4L112.8,191.9L113.4,189.1L113.9,187.4L113.2,186.3L112.9,185.3L113.1,184.1L110.5,184.8L107.4,186.2L107.3,184.6L107.1,183.6L106.0,182.9L104.2,182.8L128.6,161.3Z"/>
<path fill="#66c2a4" d="M10.3,288.4L9.8,288.8L9.4,288.4L9.6,287.7L9.4,286.8L10.3,285.3L11.5,286.0L12.2,287.3L10.3,288.4Z"/>
<path fill="#66c2a4" d="M10.0,284.3L9.2,284.5L8.7,283.6L9.8,283.6L10.2,284.0L10.0,284.3Z"/>
<path fill="#66c2a4" d="M6.9,282.5L6.0,282.8L5.6,282.0L6.3,281.6L6.8,282.2L6.9,282.5Z"/>
<path fill="#66c2a4" d="M3.4,280.8L2.5,280.6L3.0,280.1L3.5,280.2L3.4,280.8Z"/>
<path fill="#66c2a4" d="M128.6,161.3L131.1,161.8L132.4,162.8L134.0,163.0L136.5,162.1L139.4,161.4L141.5,161.7L145.2,160.8L148.5,160.2L148.6,161.1L150.4,160.6L152.0,159.6L152.9,159.8L153.4,161.8L157.3,160.3L155.7,161.9L158.1,161.6L159.5,160.9L161.3,161.1L162.9,162.0L165.9,162.8L167.9,163.2L169.7,163.0L170.8,164.1L167.3,165.3L170.0,165.7L174.8,165.5L176.6,165.1L177.2,166.4L180.1,165.3L179.2,164.3L181.0,163.6L183.2,163.5L184.7,163.3L185.6,163.8L186.2,165.0L188.2,164.8L190.4,165.8L193.3,165.5L195.7,165.5L196.7,164.1L198.5,163.8L200.5,164.5L198.8,166.6L201.3,164.8L202.6,164.9L205.2,162.7L204.6,161.3L203.4,160.4L205.7,158.1L209.0,156.5L210.9,156.8L211.7,157.8L211.8,160.2L209.4,161.3L212.2,161.7L210.4,164.0L214.0,162.3L214.9,163.7L213.1,165.3L213.6,166.8L216.6,165.2L219.2,163.3L221.2,160.9L223.4,161.1L225.6,161.4L227.1,162.5L226.4,163.6L224.3,164.8L224.7,165.9L223.7,167.0L219.3,168.6L216.6,169.0L215.3,168.3L214.0,169.4L211.0,171.4L209.8,172.3L206.6,173.9L204.0,174.1L201.9,175.0L200.7,176.6L198.4,176.8L194.9,178.8L191.0,181.4L189.0,183.3L187.0,186.1L189.5,186.5L188.9,188.7L188.5,190.6L191.5,190.1L194.4,191.2L195.7,192.1L196.4,193.2L198.4,193.9L199.8,195.0L202.9,195.1L204.9,195.3L203.4,197.5L202.7,200.0L202.8,202.8L204.6,205.1L206.5,204.3L208.8,201.8L209.7,197.8L209.0,196.5L212.7,195.4L215.7,193.6L217.6,191.9L218.3,190.3L218.2,188.2L216.9,186.4L220.5,183.9L220.9,181.7L222.5,178.1L224.0,177.5L226.7,178.2L228.5,178.4L230.3,177.8L231.5,178.6L233.0,179.9L233.1,180.8L236.2,181.0L235.2,183.0L234.3,186.1L235.8,186.4L236.4,187.9L239.8,186.5L242.8,183.9L244.6,182.7L245.0,184.9L246.0,188.0L246.9,190.9L245.5,192.4L247.4,193.8L248.6,195.2L251.4,195.8L252.4,196.6L252.4,198.7L253.8,199.0L254.2,200.0L253.4,202.8L251.7,203.7L249.9,204.6L246.4,205.5L243.2,207.6L239.7,208.0L235.6,207.5L232.6,207.4L230.4,207.6L228.1,209.4L225.1,210.5L221.0,213.9L217.8,216.3L219.7,215.8L224.1,212.5L229.1,210.4L232.2,210.1L233.6,211.4L231.1,213.1L230.8,215.8L230.9,217.7L233.1,219.0L236.6,218.7L239.6,215.8L239.1,217.6L240.2,218.6L237.2,220.2L232.1,221.8L229.7,222.8L226.9,224.7L225.3,224.5L225.9,222.3L230.2,220.2L226.9,220.3L224.5,220.6L223.6,219.1L224.8,215.6L224.1,214.9L222.6,215.3L222.2,214.7L219.9,216.6L218.6,218.6L217.5,219.7L215.8,220.3L215.3,220.9L208.4,220.9L207.3,221.4L204.1,223.4L203.1,224.4L199.1,224.4L198.0,224.9L198.2,225.4L197.9,226.4L194.7,227.7L192.4,228.1L188.9,229.5L188.4,228.4L189.2,227.5L190.7,226.1L191.9,224.6L192.4,222.4L192.9,220.0L191.2,218.8L191.6,218.4L190.9,218.1L190.3,217.3L189.7,216.1L188.5,215.2L187.2,214.4L185.7,213.4L184.2,212.5L181.4,213.2L179.2,212.6L177.4,212.9L175.8,212.1L173.9,211.7L172.2,211.1L172.5,209.7L171.8,209.8L171.3,210.7L115.6,210.7L115.3,210.7L113.1,208.2L112.5,207.1L109.6,206.1L110.2,203.9L111.6,202.3L109.9,201.3L111.2,199.3L110.3,197.5L111.3,196.2L114.7,193.4L112.8,191.9L113.4,189.1L113.9,187.4L113.2,186.3L112.9,185.3L113.1,184.1L110.5,184.8L107.4,186.2L107.3,184.6L107.1,183.6L106.0,182.9L104.2,182.8L128.6,161.3Z"/>
<path fill="#66c2a4" d="M243.5,179.0L239.1,178.0L236.0,176.7L234.4,175.5L235.4,174.9L233.5,173.7L231.6,172.6L231.2,173.2L225.9,173.6L224.9,172.8L227.1,171.1L230.4,171.1L234.2,170.8L234.1,170.0L235.4,168.8L238.9,166.7L239.0,165.6L238.9,164.9L237.0,163.8L234.1,163.1L235.5,162.5L234.7,161.1L233.3,161.0L232.5,160.3L231.2,160.9L227.9,161.2L222.3,160.7L219.3,160.1L216.9,159.7L216.1,159.0L218.7,158.0L216.4,158.0L217.7,155.8L220.6,153.9L223.0,153.1L227.6,152.5L225.3,153.9L225.4,155.2L228.3,153.5L233.1,152.6L234.0,154.8L232.7,156.2L236.3,155.6L238.5,154.7L241.2,155.8L242.8,156.8L242.3,157.8L245.7,157.3L246.4,158.6L249.8,159.5L250.7,160.4L251.1,162.4L247.4,163.4L250.5,164.9L252.9,165.4L254.3,167.4L256.9,167.6L255.5,169.2L251.1,171.8L249.5,170.8L247.9,168.7L245.5,169.0L244.6,170.3L245.7,171.6L247.5,172.6L247.9,173.3L247.9,175.6L246.5,177.2L244.5,176.6L241.0,174.7L242.5,176.7L243.6,178.2L243.5,179.0Z"/>
<path fill="#66c2a4" d="M192.8,153.8L197.2,153.4L194.2,154.9L193.1,157.0L192.1,158.5L193.8,159.5L195.8,160.6L194.8,161.5L191.9,161.7L192.2,162.6L190.9,163.4L188.1,163.0L185.8,162.4L183.7,162.6L179.9,163.3L175.3,163.6L172.1,163.8L172.2,162.8L170.5,162.2L168.8,162.4L168.6,160.7L169.9,160.5L172.9,160.1L175.1,160.2L177.7,159.8L175.0,159.3L171.3,159.5L169.0,159.5L169.0,158.7L173.8,157.8L171.2,157.8L169.0,157.3L172.2,155.7L174.3,154.8L180.0,153.6L181.2,154.0L179.3,154.9L183.6,154.3L184.6,155.4L187.6,154.3L188.3,155.0L187.4,157.1L189.2,156.2L190.3,154.0L192.1,153.7L192.8,153.8Z"/>
<path fill="#66c2a4" d="M166.8,157.6L161.4,158.7L161.6,157.7L159.2,156.6L161.0,155.7L164.0,154.2L167.1,152.8L167.2,151.5L172.9,151.2L174.6,151.6L178.5,151.7L179.3,152.3L180.0,153.2L177.3,153.7L171.7,155.2L167.9,156.7L166.8,157.6Z"/>
<path fill="#66c2a4" d="M252.9,141.9L252.3,141.9L252.1,142.2L252.4,143.1L250.4,143.8L247.6,144.3L246.1,145.1L243.5,145.7L243.2,146.1L245.9,146.0L245.4,146.5L240.2,147.7L236.8,147.2L232.0,147.5L230.0,147.2L227.3,147.1L228.1,146.2L231.4,145.7L232.2,144.3L233.2,144.2L236.3,145.0L235.6,143.8L233.6,143.4L235.7,142.7L238.8,142.2L239.9,141.6L238.6,140.9L239.1,140.0L242.9,140.1L243.8,140.3L246.7,139.7L243.8,139.4L238.7,139.5L236.9,139.0L236.5,138.3L235.5,137.8L235.9,137.3L238.4,136.9L240.1,136.9L243.1,136.6L245.9,136.1L247.5,136.1L248.4,136.6L250.5,135.7L252.6,135.5L255.2,135.3L259.5,135.3L260.0,135.4L264.2,135.2L267.1,135.3L269.9,135.4L273.4,135.5L276.2,135.7L278.3,136.1L277.8,136.5L273.8,137.2L270.2,137.5L268.5,137.9L271.6,137.9L267.3,138.9L264.6,139.4L260.8,140.8L257.5,141.1L256.3,141.5L251.7,141.7L253.5,141.9L252.3,141.9Z"/>
<path fill="#66c2a4" d="M239.1,150.2L237.6,150.8L234.9,151.2L233.1,151.0L228.3,151.3L225.1,151.3L222.8,151.1L219.3,150.4L219.9,149.3L220.8,148.3L220.2,147.4L217.4,147.2L216.3,146.6L217.8,145.8L220.8,145.9L221.8,146.5L224.7,146.5L225.3,147.2L224.1,147.9L225.4,148.4L225.9,148.9L227.9,148.9L230.0,149.1L232.8,148.7L236.1,148.5L238.5,148.7L239.4,149.4L239.0,150.2L239.1,150.2Z"/>
<path fill="#66c2a4" d="M215.0,170.3L214.6,171.3L215.7,171.0L216.3,171.6L217.7,172.4L219.3,173.1L218.7,174.2L220.1,174.0L220.9,174.8L218.9,175.5L216.4,174.9L216.1,173.9L213.6,175.1L210.2,176.3L210.5,175.0L208.0,175.2L210.3,174.0L211.8,172.2L213.8,170.1L215.0,170.3Z"/>
<path fill="#66c2a4" d="M252.9,204.9L251.3,206.4L249.3,208.7L250.9,207.8L252.0,208.3L251.1,209.2L252.6,209.9L253.8,209.3L255.5,210.1L254.4,211.9L255.9,211.5L255.8,212.8L256.0,214.4L254.5,216.7L253.6,216.8L252.4,216.3L253.4,214.2L252.9,213.9L249.9,216.1L248.7,216.0L250.5,214.8L248.7,214.2L246.5,214.4L242.6,214.3L242.5,213.5L244.0,212.6L243.4,211.9L245.5,210.4L248.9,206.4L250.6,204.9L252.6,204.1L253.5,204.2L252.9,204.9Z"/>
<path fill="#66c2a4" d="M113.4,212.0L112.2,212.3L109.6,211.1L109.6,210.3L108.4,209.4L108.5,208.7L106.8,208.2L107.0,206.8L107.6,206.2L109.3,206.8L110.3,207.2L112.0,207.4L112.0,208.3L112.2,209.5L113.5,210.6L113.4,212.0Z"/>
<path fill="#66c2a4" d="M232.8,217.0L234.1,217.3L236.1,217.2L234.7,218.3L233.9,218.4L231.7,217.4L231.4,216.5L232.5,215.7L232.8,217.0Z"/>
<path fill="#66c2a4" d="M233.9,208.5L234.6,208.3L237.0,208.9L238.7,210.0L238.6,210.4L237.7,210.5L235.3,209.7L233.9,208.5Z"/>
<path fill="#66c2a4" d="M105.6,198.1L107.6,197.9L104.7,200.7L104.8,202.7L104.0,202.7L103.7,201.6L103.9,200.4L103.6,199.6L104.1,198.5L104.9,197.8L105.6,198.1Z"/>
<path fill="#66c2a4" d="M207.5,152.6L209.3,152.6L209.1,153.2L206.6,154.2L208.2,155.1L206.1,157.0L202.6,157.9L201.2,157.7L200.9,156.9L198.5,155.2L199.2,154.6L202.2,154.8L201.8,153.5L204.7,152.5L206.2,152.9L207.5,152.6Z"/>
<path fill="#66c2a4" d="M213.9,154.7L210.7,156.3L209.0,156.2L209.7,154.3L210.8,153.3L212.5,152.4L214.6,151.9L217.8,151.9L220.3,152.4L216.2,154.3L213.9,154.7Z"/>
<path fill="#66c2a4" d="M198.1,147.7L197.8,148.4L199.6,148.0L201.1,148.1L200.2,149.1L198.1,150.1L192.4,150.4L187.5,151.3L185.0,151.3L185.6,150.7L190.0,149.8L182.7,150.0L181.0,149.6L185.7,147.7L187.9,147.1L191.3,147.8L192.5,149.0L195.0,149.1L195.3,147.2L197.6,146.5L198.9,146.7L198.1,147.7Z"/>
<path fill="#66c2a4" d="M214.2,147.5L213.1,148.6L210.7,150.1L207.9,150.3L206.6,150.0L208.0,148.8L205.3,149.0L207.1,147.4L208.6,147.4L211.8,146.8L213.7,146.9L214.2,147.5Z"/>
<path fill="#66c2a4" d="M237.7,141.0L238.8,141.6L236.2,142.2L231.9,143.6L229.1,143.7L226.3,143.5L225.7,142.7L226.5,142.0L228.3,141.5L225.6,141.6L224.8,141.0L224.9,140.2L226.9,139.4L228.6,138.9L230.2,138.8L230.1,138.4L233.4,138.3L234.1,139.2L236.0,139.6L238.0,139.9L237.7,141.0Z"/>
<path fill="#66c2a4" d="M190.0,144.8L187.6,146.3L185.5,147.0L183.9,147.1L179.9,148.0L177.0,148.3L175.6,147.8L175.6,147.8L180.3,146.3L185.3,145.1L187.6,145.1L190.0,144.8Z"/>
<path fill="#66c2a4" d="M202.9,162.6L201.2,163.4L199.5,162.7L198.0,162.9L196.5,161.9L198.6,161.3L200.6,160.3L201.8,160.9L202.5,161.3L202.6,161.7L202.9,162.6Z"/>
<path fill="#66c2a4" d="M75.6,188.4L76.7,188.6L76.7,189.4L73.8,190.5L70.9,191.5L70.6,190.8L71.6,189.7L74.2,188.8L75.6,188.4Z"/>
<path fill="#66c2a4" d="M58.4,174.6L58.9,175.1L60.3,174.9L61.0,175.5L62.3,175.8L61.9,176.0L59.9,176.5L59.2,176.0L59.1,175.6L57.3,175.7L57.2,175.5L58.4,174.6Z"/>
<path fill="#66c2a4" d="M57.7,182.7L58.9,182.9L57.9,183.8L56.3,184.2L55.7,183.7L55.3,183.1L57.7,182.7Z"/>
<path fill="#66c2a4" d="M387.4,194.2L386.4,196.2L384.3,194.8L383.9,193.8L386.7,193.0L387.4,194.2Z"/>
<path fill="#66c2a4" d="M383.8,192.1L383.5,193.1L382.9,192.8L381.6,194.5L382.2,195.8L381.0,196.1L379.5,195.8L378.7,194.4L378.5,191.9L378.8,191.3L379.2,190.5L380.9,190.4L381.5,189.7L383.0,189.0L383.0,190.3L382.5,191.1L382.8,191.8L383.8,192.1Z"/>
<path fill="#66c2a4" d="M344.1,229.0L344.9,228.3L345.8,227.9L346.2,229.2L347.5,229.2L347.8,228.9L349.1,229.0L349.6,230.3L348.6,231.0L348.5,233.0L348.2,233.4L348.1,234.6L347.1,234.8L347.9,236.3L347.3,238.1L348.0,238.8L347.7,239.5L346.9,240.5L347.0,241.4L346.1,242.0L345.0,241.7L343.9,242.0L344.3,239.9L344.2,238.3L343.2,238.1L342.7,237.1L343.0,235.4L343.8,234.5L344.0,233.4L344.5,231.9L344.5,230.8L344.1,229.8L344.1,229.0Z"/>
<path fill="#66c2a4" d="M384.4,216.1L385.7,216.4L385.9,216.0L387.9,215.5L388.4,216.4L391.4,217.1L391.2,218.3L391.8,219.4L390.1,219.0L388.5,219.9L388.7,221.2L388.5,221.9L389.3,223.3L391.3,224.5L392.5,226.7L394.9,228.8L396.6,228.8L397.1,229.3L396.6,229.8L398.6,230.8L400.2,231.5L402.1,232.9L402.3,233.4L402.0,234.3L400.7,233.1L398.9,232.7L398.1,234.3L399.7,235.3L399.5,236.7L398.7,236.8L397.6,239.0L396.8,239.3L396.7,238.5L397.1,237.1L397.5,236.5L396.6,235.0L395.8,233.7L394.9,233.4L394.2,232.3L392.9,231.8L391.9,230.7L390.3,230.6L388.6,229.4L386.6,227.7L385.1,226.2L384.3,223.7L383.3,223.4L381.5,222.5L380.6,222.9L379.4,224.1L378.6,224.3L378.8,223.2L377.7,222.8L377.0,220.8L377.7,220.1L377.1,219.1L377.2,218.4L378.1,218.9L379.1,218.8L380.2,218.0L380.5,218.3L381.5,218.3L381.9,217.2L383.4,217.6L384.3,217.1L384.4,216.1Z"/>
<path fill="#66c2a4" d="M396.4,238.4L395.7,240.5L396.1,241.3L395.7,242.6L394.0,241.6L392.9,241.4L389.8,240.0L390.1,238.7L392.6,238.9L394.7,238.7L396.4,238.4Z"/>
<path fill="#66c2a4" d="M382.5,230.7L383.9,232.5L383.7,236.0L382.7,235.8L381.9,236.7L381.1,236.0L380.9,232.8L380.4,231.4L381.5,231.5L382.5,230.7Z"/>
<path fill="#66c2a4" d="M392.9,205.4L393.9,206.2L395.4,206.4L395.4,207.1L396.5,207.6L396.7,207.0L398.1,207.3L398.4,208.1L399.9,208.2L401.0,209.5L400.4,209.5L400.1,209.9L399.6,210.0L399.6,210.6L399.2,210.7L399.2,211.0L398.5,211.2L397.6,211.2L397.4,211.7L396.4,211.2L395.5,211.4L393.8,210.6L393.1,210.8L392.1,211.8L390.5,211.0L389.3,209.9L388.2,209.3L388.0,208.3L387.5,207.5L389.0,207.0L389.7,206.3L391.1,205.8L391.5,205.4L392.0,205.7L392.9,205.4Z"/>
<path fill="#66c2a4" d="M408.5,210.5L408.0,211.1L407.8,212.2L407.4,212.4L405.1,211.7L404.5,211.8L404.1,212.4L403.2,212.7L402.9,212.6L402.0,213.0L401.2,213.1L401.1,213.6L399.4,213.9L398.6,213.6L397.5,213.0L397.2,212.1L397.4,211.7L397.6,211.2L398.5,211.2L399.2,211.0L399.2,210.7L399.6,210.6L399.6,210.0L400.1,209.9L400.4,209.5L401.0,209.5L401.1,209.6L401.9,209.3L403.0,210.2L404.1,209.6L405.1,209.9L406.5,209.5L408.5,210.5Z"/>
<path fill="#66c2a4" d="M407.8,212.2L409.0,212.9L409.2,213.6L408.0,214.1L407.3,215.8L406.2,217.5L404.6,218.0L403.3,217.9L401.8,218.6L401.1,219.0L399.3,218.5L397.7,217.4L397.0,217.1L396.6,216.2L396.2,216.2L396.7,214.5L396.3,214.0L397.4,214.0L397.5,213.0L398.6,213.6L399.4,213.9L401.1,213.6L401.2,213.1L402.0,213.0L402.9,212.6L403.2,212.7L404.1,212.4L404.5,211.8L405.1,211.7L407.4,212.4L407.8,212.2Z"/>
<path fill="#f7fcfd" d="M145.6,270.7L144.3,273.0L143.5,274.8L142.8,278.3L142.4,279.6L142.6,281.0L143.1,282.3L143.2,284.3L144.4,286.3L144.8,287.8L145.5,289.0L147.8,289.8L148.6,290.8L150.7,290.1L152.4,289.9L154.2,289.4L155.7,288.9L157.3,287.9L158.0,286.3L158.5,284.1L159.0,283.4L160.6,282.7L163.1,282.1L165.1,282.2L166.5,282.0L166.9,282.5L166.7,283.8L165.3,285.3L164.5,286.9L164.9,287.4L164.4,288.5L163.6,290.5L163.1,289.9L162.6,289.9L162.2,289.9L161.1,291.5L160.8,291.2L160.5,291.3L160.5,291.7L158.4,291.7L156.2,291.7L156.0,293.2L155.0,293.2L155.8,294.0L156.5,294.6L156.7,295.2L157.1,295.4L156.9,296.3L154.0,296.3L152.6,298.4L152.9,298.9L152.6,299.5L152.4,300.2L150.2,297.4L149.1,296.6L147.3,295.9L146.0,296.1L144.1,297.1L142.9,297.3L141.4,296.6L139.7,296.1L137.7,294.9L136.1,294.6L133.7,293.4L131.9,292.1L131.5,291.4L130.2,291.3L128.0,290.5L127.2,289.3L125.0,287.8L124.2,286.1L123.8,284.9L124.6,284.6L124.5,283.9L125.1,283.2L125.3,282.3L124.7,281.1L124.7,280.1L124.1,278.8L122.6,276.2L120.7,274.1L120.0,272.5L118.3,271.4L118.0,270.8L118.7,269.2L117.7,268.6L116.7,267.3L116.6,265.5L115.5,265.3L114.6,263.9L113.9,262.6L114.0,261.8L113.4,259.8L113.2,257.8L113.6,256.8L112.3,255.8L111.5,255.9L110.5,255.2L109.8,256.3L109.8,257.5L109.4,259.5L109.8,260.5L110.9,262.3L111.1,262.9L111.4,263.2L111.5,264.0L111.9,264.0L111.9,265.7L112.4,266.3L112.6,267.3L113.7,268.6L113.9,271.0L114.2,272.2L114.6,273.4L114.4,274.8L115.5,274.8L116.2,276.0L116.8,277.2L116.7,277.7L115.5,278.6L115.1,278.6L114.8,277.0L113.6,275.6L112.3,274.3L111.3,273.6L111.8,271.7L111.7,270.3L110.9,269.5L109.6,268.3L109.2,268.7L108.8,268.0L107.6,267.4L106.7,265.8L106.9,265.6L107.8,265.8L108.9,264.8L109.3,263.6L108.1,261.8L107.0,261.0L106.7,259.4L106.4,257.7L106.1,255.6L106.1,253.3L111.5,252.8L111.1,253.3L118.4,256.4L124.6,256.4L124.9,255.3L128.7,255.3L129.2,256.2L130.1,257.1L131.1,258.2L131.4,259.6L131.6,261.0L132.5,261.8L134.1,262.6L136.1,260.5L137.9,260.5L139.2,261.5L139.8,263.3L140.2,264.8L141.2,266.3L141.3,268.1L141.7,269.4L143.2,270.2L144.7,270.7L145.6,270.7Z"/>
<path fill="#005824" d="M409.1,158.1L414.7,159.7L412.7,160.2L414.9,161.6L412.3,162.5L411.0,162.7L411.3,161.1L409.0,160.3L406.6,161.0L406.1,162.6L404.7,163.6L402.8,163.1L400.7,163.2L398.6,162.0L397.7,162.6L396.7,162.7L396.7,164.1L393.4,163.8L393.2,165.0L391.5,165.0L390.6,166.6L389.2,169.1L386.9,172.3L387.6,173.1L387.1,174.0L385.4,174.0L384.4,176.2L384.8,179.3L386.1,180.5L385.7,183.3L384.3,184.9L383.6,186.3L382.3,184.8L378.8,187.6L376.3,188.2L373.7,186.9L372.9,184.4L372.1,178.9L373.7,177.4L378.3,175.4L381.6,173.0L384.6,169.8L388.2,165.5L390.8,163.8L395.0,161.0L398.4,160.1L401.2,160.2L403.3,158.4L406.3,158.5L409.1,158.1Z"/>
<path fill="#005824" d="M384.9,141.0L385.3,140.4L387.4,140.4L389.4,141.0L394.5,142.3L391.0,143.1L390.5,144.4L389.3,144.8L388.9,146.4L387.1,146.5L383.7,145.3L384.9,144.6L382.6,144.1L379.5,142.5L378.1,141.1L382.0,140.4L382.9,141.0L384.9,141.0Z"/>
<path fill="#005824" d="M402.3,140.3L400.5,141.3L396.4,141.5L392.1,141.2L391.7,140.7L389.6,140.7L387.9,139.9L392.1,139.4L394.3,139.8L395.6,139.3L399.3,139.7L402.3,140.3Z"/>
<path fill="#005824" d="M399.8,144.4L396.7,145.2L394.0,144.7L394.8,144.2L393.8,143.6L396.7,143.3L397.5,144.0L399.8,144.4Z"/>
<path fill="#005824" d="M351.1,198.5L351.3,200.3L349.7,202.5L346.2,204.0L343.4,203.6L345.1,201.0L344.3,198.5L347.0,196.5L348.5,195.4L348.9,196.7L348.4,198.0L349.6,198.0L351.1,198.5Z"/>
<path fill="#005824" d="M374.9,199.4L376.6,199.5L377.0,200.3L376.6,202.6L376.1,203.5L374.9,203.5L375.4,206.2L374.2,205.6L372.9,204.5L371.1,205.0L369.7,204.8L370.7,204.1L372.3,200.4L374.9,199.4Z"/>
<path fill="#005824" d="M382.6,214.5L382.7,214.9L382.4,215.5L383.4,216.0L384.4,216.1L384.3,217.1L383.4,217.6L381.9,217.2L381.5,218.3L380.5,218.3L380.2,218.0L379.1,218.8L378.1,218.9L377.2,218.4L376.4,217.3L375.4,217.7L375.5,216.5L376.9,215.1L376.8,214.4L377.7,214.7L378.3,214.2L380.0,214.2L380.4,213.7L382.6,214.5Z"/>
<path fill="#005824" d="M738.9,442.8L737.0,444.1L734.6,445.9L732.2,446.9L732.4,446.3L731.8,445.9L734.6,443.8L734.9,442.3L733.4,441.3L734.1,440.4L736.3,439.5L738.0,437.5L739.0,435.8L739.2,434.0L739.6,433.5L739.2,432.5L738.9,430.2L739.1,428.3L740.0,428.1L740.3,429.6L741.6,430.3L740.8,432.6L740.7,435.3L741.8,433.5L742.4,434.3L741.4,436.2L742.6,437.1L743.9,437.3L745.8,436.3L746.7,436.6L744.6,438.9L742.9,440.4L741.3,440.4L740.1,441.1L739.5,442.3L738.9,442.8Z"/>
<path fill="#005824" d="M716.7,451.8L719.6,450.4L721.9,449.1L724.3,447.2L725.6,446.5L727.0,445.1L729.4,443.8L729.0,445.0L728.7,446.0L731.0,445.0L730.8,446.1L730.0,447.2L728.3,448.3L725.4,450.3L723.5,451.3L723.2,452.5L721.6,452.6L719.0,453.5L717.1,455.2L713.8,457.8L711.2,459.0L709.5,459.7L707.7,459.6L707.1,458.8L705.0,458.6L705.4,457.7L708.1,455.8L712.7,453.2L714.4,452.8L716.7,451.8Z"/>
<path fill="#238b45" d="M411.0,162.7L411.2,164.2L414.1,165.7L412.9,167.4L415.6,170.0L414.9,171.9L416.9,173.7L416.5,175.2L419.5,176.8L419.1,178.0L417.8,179.3L414.5,182.4L411.3,182.6L408.2,183.4L405.3,183.9L404.0,182.6L402.1,181.8L402.1,179.5L400.9,177.4L401.5,176.0L402.9,174.6L406.5,172.1L407.5,171.6L407.2,170.6L404.5,169.5L403.8,168.6L403.0,165.2L400.1,163.7L397.7,162.6L398.6,162.0L400.7,163.2L402.8,163.1L404.7,163.6L406.1,162.6L406.6,161.0L409.0,160.3L411.3,161.1L411.0,162.7Z"/>
<path fill="#238b45" d="M397.5,213.0L397.4,214.0L396.3,214.0L396.7,214.5L396.2,216.2L395.8,216.6L394.1,216.7L393.1,217.3L391.4,217.1L388.4,216.4L387.9,215.5L385.9,216.0L385.7,216.4L384.4,216.1L383.4,216.0L382.4,215.5L382.7,214.9L382.6,214.5L383.2,214.3L384.3,215.0L384.5,214.4L386.4,214.5L387.8,214.0L388.8,214.1L389.4,214.6L389.6,214.2L389.2,212.5L389.9,212.2L390.5,211.0L392.1,211.8L393.1,210.8L393.8,210.6L395.5,211.4L396.4,211.2L397.4,211.7L397.2,212.1L397.5,213.0Z"/>
<path fill="#41ae76" d="M369.7,204.8L371.1,205.0L372.9,204.5L374.2,205.6L375.4,206.2L375.2,207.9L374.7,208.0L374.5,209.4L372.7,208.2L371.7,208.4L370.3,207.2L369.3,206.2L368.4,206.2L368.1,205.3L369.7,204.8Z"/>
<path fill="#41ae76" d="M368.1,205.3L368.4,206.2L369.3,206.2L370.3,207.2L371.7,208.4L372.7,208.2L374.5,209.4L375.0,209.6L375.5,209.6L376.5,210.2L379.4,210.7L378.5,212.4L378.3,214.2L377.7,214.7L376.8,214.4L376.9,215.1L375.5,216.5L375.4,217.7L376.4,217.3L377.2,218.4L377.1,219.1L377.7,220.1L377.0,220.8L377.7,222.8L378.8,223.2L378.6,224.3L376.7,225.7L372.6,225.0L369.6,225.9L369.4,227.4L366.9,227.8L364.6,226.6L363.8,227.2L360.0,226.0L359.1,225.0L360.2,223.4L360.7,218.3L358.5,215.7L357.1,214.4L354.0,213.4L353.8,211.5L356.4,211.0L359.8,211.6L359.2,208.7L361.1,209.8L365.8,207.9L366.4,205.8L368.1,205.3Z"/>
<path fill="#41ae76" d="M383.2,228.3L382.6,230.3L381.6,229.7L381.0,228.0L381.4,227.0L382.7,226.0L383.2,228.3Z"/>
<path fill="#41ae76" d="M344.1,229.0L344.3,227.1L343.5,226.0L346.5,224.1L349.0,224.6L351.8,224.6L354.0,225.0L355.8,224.9L359.1,225.0L360.0,226.0L363.8,227.2L364.6,226.6L366.9,227.8L369.4,227.4L369.5,228.9L367.5,230.6L364.8,231.2L364.6,232.1L363.3,233.5L362.5,235.6L363.3,237.1L362.1,238.3L361.6,240.0L360.0,240.5L358.5,242.5L355.7,242.5L353.7,242.5L352.3,243.4L351.5,244.4L350.4,244.2L349.6,243.3L349.0,241.8L347.0,241.4L346.9,240.5L347.7,239.5L348.0,238.8L347.3,238.1L347.9,236.3L347.1,234.8L348.1,234.6L348.2,233.4L348.5,233.0L348.6,231.0L349.6,230.3L349.1,229.0L347.8,228.9L347.5,229.2L346.2,229.2L345.8,227.9L344.9,228.3L344.1,229.0Z"/>
<path fill="#41ae76" d="M670.8,444.6L672.3,445.5L673.7,445.2L675.6,444.7L676.8,444.9L675.0,447.9L673.6,448.8L672.0,450.9L671.7,450.2L669.1,452.0L668.7,451.8L667.5,451.7L667.7,449.5L668.6,447.8L668.8,445.6L669.6,444.4L670.8,444.6Z"/>
<path fill="#41ae76" d="M691.3,374.1L691.8,376.2L693.5,375.2L694.0,376.3L695.0,377.3L694.5,378.5L694.6,380.7L694.7,382.0L695.2,382.3L695.4,384.6L694.9,385.9L695.2,387.7L697.4,389.0L698.7,390.3L700.0,391.4L699.6,392.1L700.5,393.7L700.7,396.5L701.8,395.9L702.4,397.1L703.1,396.7L702.8,399.4L703.9,401.1L704.7,402.0L705.8,404.2L705.8,406.3L705.4,407.7L704.7,409.4L705.0,411.6L704.0,413.9L703.1,415.1L701.6,417.4L701.0,418.9L699.7,420.8L697.6,423.2L695.4,424.4L693.6,426.5L692.3,427.8L690.5,430.0L689.0,431.3L687.4,433.3L686.1,435.1L685.8,435.9L684.0,436.8L681.6,436.9L679.0,438.0L677.4,439.0L675.5,440.1L674.4,438.9L673.4,438.5L674.4,437.1L673.0,437.6L670.1,439.5L668.6,438.8L667.6,438.4L666.5,438.2L664.8,437.4L664.3,435.8L664.9,433.8L665.6,431.5L664.5,431.5L662.6,431.2L663.9,429.9L664.3,427.9L662.4,429.8L660.2,430.2L662.0,428.8L663.0,427.3L664.5,426.0L665.1,424.1L662.4,426.3L660.6,427.2L658.8,429.3L657.6,428.2L658.3,426.8L657.8,424.9L657.0,424.0L657.7,423.4L655.5,421.8L654.0,421.7L652.4,420.4L648.3,420.7L644.9,422.3L642.3,422.5L640.3,422.3L637.4,423.6L635.3,424.2L634.3,425.6L633.1,426.7L631.2,426.7L629.8,427.0L628.0,426.5L626.3,426.8L624.8,426.9L622.9,428.3L622.4,428.2L621.0,428.9L619.6,429.7L618.0,429.6L616.6,429.6L614.9,428.0L614.0,427.5L614.6,426.0L615.8,425.6L616.4,425.0L616.6,424.1L617.5,422.3L617.8,420.7L617.5,418.1L617.6,416.6L618.2,415.1L617.8,413.4L618.0,412.6L617.2,411.6L617.5,409.5L616.8,407.5L616.7,406.4L617.4,407.5L617.2,405.1L618.2,405.8L618.6,406.9L618.9,405.5L618.2,403.5L618.2,402.6L617.9,401.8L618.4,400.4L619.0,399.7L619.5,398.4L619.6,396.9L620.8,395.0L620.7,397.0L621.9,395.2L623.9,394.3L625.2,393.2L627.1,392.2L628.2,392.0L628.7,392.4L630.7,391.4L632.1,391.1L632.6,390.5L633.2,390.3L634.5,390.4L637.0,389.6L638.4,388.4L639.2,387.0L640.8,385.7L641.1,384.7L641.4,383.2L643.3,381.0L643.9,383.3L645.0,382.8L644.4,381.5L645.3,380.3L646.2,380.8L646.8,378.8L648.3,377.6L649.0,376.5L650.2,376.1L650.3,375.3L651.3,375.7L651.4,375.0L652.4,374.6L653.6,374.3L655.1,375.5L656.2,377.0L657.6,377.0L659.0,377.3L658.7,375.8L660.1,373.8L661.3,373.1L661.0,372.4L662.2,370.9L663.7,370.0L664.8,370.3L666.8,369.8L666.9,368.5L665.3,367.6L666.6,367.3L668.0,367.9L669.1,369.0L671.0,369.6L671.7,369.4L673.0,370.2L674.4,369.4L675.2,369.7L675.8,369.2L676.7,370.4L675.9,371.8L674.9,372.9L674.1,373.0L674.3,374.0L673.4,375.3L672.4,376.6L672.4,377.4L674.0,378.8L675.6,379.6L676.6,380.5L678.0,382.1L678.6,382.1L679.7,382.7L679.9,383.5L681.9,384.4L683.6,383.5L684.3,382.1L685.0,381.0L685.5,379.5L686.6,377.5L686.4,376.2L686.7,375.4L686.7,374.0L687.3,372.0L687.8,371.5L687.6,370.6L688.3,369.2L688.9,367.8L689.0,367.0L690.0,366.1L690.5,367.3L690.5,368.9L691.0,369.3L691.0,370.4L691.6,371.7L691.6,373.2L691.3,374.1Z"/>
<path fill="#99d8c9" d="M408.7,198.4L409.0,199.5L409.6,200.4L409.8,201.4L408.7,201.9L409.5,203.1L409.7,204.2L410.9,206.4L410.8,207.1L409.9,207.4L408.3,209.5L409.0,210.6L408.5,210.5L406.5,209.5L405.1,209.9L404.1,209.6L403.0,210.2L401.9,209.3L401.1,209.6L401.0,209.5L399.9,208.2L398.4,208.1L398.1,207.3L396.7,207.0L396.5,207.6L395.4,207.1L395.4,206.4L393.9,206.2L392.9,205.4L392.0,203.8L392.0,202.9L391.4,201.6L390.6,200.7L391.1,200.0L390.6,198.8L391.8,198.1L394.7,196.9L397.1,196.1L399.0,196.5L399.3,197.1L401.1,197.1L403.6,197.4L407.1,197.4L408.1,197.6L408.7,198.4Z"/>
</g>
<g class="lg">
<rect x="157.3" y="537.1" width="47" height="11.2" fill="url(#hatch)" stroke="#ccc" stroke-width="0.6"/>
<text x="180.5" y="530.3" text-anchor="middle">No data</text>
<line x1="180.5" y1="534" x2="180.5" y2="537" stroke="#bbb" stroke-width="0.7"/>
<g stroke="#aaa" stroke-width="0.4">
<rect x="224.5" y="537.1" width="58.5" height="11.2" fill="#f7fcfd"/>
<rect x="283" y="537.1" width="58.5" height="11.2" fill="#e5f5f9"/>
<rect x="341.5" y="537.1" width="58.5" height="11.2" fill="#ccece6"/>
<rect x="400" y="537.1" width="58.5" height="11.2" fill="#99d8c9"/>
<rect x="458.5" y="537.1" width="58.5" height="11.2" fill="#66c2a4"/>
<rect x="517" y="537.1" width="58.5" height="11.2" fill="#41ae76"/>
<rect x="575.5" y="537.1" width="58.5" height="11.2" fill="#238b45"/>
<rect x="634" y="537.1" width="58.5" height="11.2" fill="#005824"/>
</g>
<g stroke="#8a8a8a" stroke-width="0.45">
<line x1="224.5" y1="534" x2="224.5" y2="548.3"/><line x1="283" y1="534" x2="283" y2="548.3"/><line x1="341.5" y1="534" x2="341.5" y2="548.3"/><line x1="400" y1="534" x2="400" y2="548.3"/><line x1="458.5" y1="534" x2="458.5" y2="548.3"/><line x1="517" y1="534" x2="517" y2="548.3"/><line x1="575.5" y1="534" x2="575.5" y2="548.3"/><line x1="634" y1="534" x2="634" y2="548.3"/><line x1="692.5" y1="534" x2="692.5" y2="548.3"/>
</g>
<text x="224.5" y="530.3" text-anchor="middle">0%</text>
<text x="283" y="530.3" text-anchor="middle">10%</text>
<text x="341.5" y="530.3" text-anchor="middle">20%</text>
<text x="400" y="530.3" text-anchor="middle">30%</text>
<text x="458.5" y="530.3" text-anchor="middle">40%</text>
<text x="517" y="530.3" text-anchor="middle">50%</text>
<text x="575.5" y="530.3" text-anchor="middle">60%</text>
<text x="634" y="530.3" text-anchor="middle">70%</text>
<text x="692.5" y="530.3" text-anchor="middle">80%</text>
</g>
</svg>
<h1 class="title">Recycling rates of paper and cardboard, 2005</h1>
<p class="sub"><span style="letter-spacing:-0.015px">Recycling is defined as the reuse of material in a production process that diverts it from the waste stream,</span><span style="letter-spacing:0.022px">except for recycling within industrial plants and the reuse of material as fuel. "Recycling rates" are the ratios of</span><span style="letter-spacing:0.11px">the quantity collected for recycling to the apparent consumption.</span></p>
<div class="logo">Our World<br>in Data</div>
<p class="foot l"><b>Data source:</b> United Nations Environment Programme (UNEP)</p>
<p class="foot r">OurWorldinData.org/waste-management | CC BY</p>
</body>
</html>
